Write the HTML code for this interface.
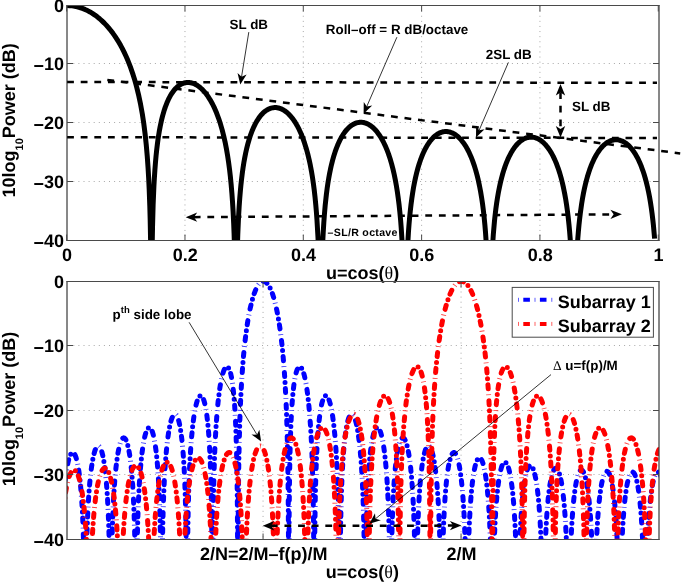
<!DOCTYPE html>
<html><head><meta charset="utf-8"><style>
html,body{margin:0;padding:0;background:#fff;}
svg{display:block;font-family:"Liberation Sans", sans-serif;}
text{text-rendering:geometricPrecision;}
svg{will-change:transform;}
</style></head><body>
<svg width="685" height="585" viewBox="0 0 685 585">
<rect width="685" height="585" fill="#fff"/>
<line x1="184.97" y1="5.55" x2="184.97" y2="240.30" stroke="#a8a8a8" stroke-width="1" stroke-dasharray="1 4.1"/>
<line x1="303.29" y1="5.55" x2="303.29" y2="240.30" stroke="#a8a8a8" stroke-width="1" stroke-dasharray="1 4.1"/>
<line x1="421.61" y1="5.55" x2="421.61" y2="240.30" stroke="#a8a8a8" stroke-width="1" stroke-dasharray="1 4.1"/>
<line x1="539.93" y1="5.55" x2="539.93" y2="240.30" stroke="#a8a8a8" stroke-width="1" stroke-dasharray="1 4.1"/>
<line x1="68.20" y1="63.50" x2="658.80" y2="63.50" stroke="#a8a8a8" stroke-width="1" stroke-dasharray="1 4.1"/>
<line x1="68.20" y1="122.50" x2="658.80" y2="122.50" stroke="#a8a8a8" stroke-width="1" stroke-dasharray="1 4.1"/>
<line x1="68.20" y1="181.50" x2="658.80" y2="181.50" stroke="#a8a8a8" stroke-width="1" stroke-dasharray="1 4.1"/>
<defs><clipPath id="ct"><rect x="67.2" y="5.55" width="591.5999999999999" height="234.75"/></clipPath><clipPath id="cb"><rect x="67.2" y="281.3" width="591.5999999999999" height="258.2"/></clipPath></defs>
<line x1="67.1" y1="82.0" x2="657" y2="82.8" stroke="#000" stroke-width="2.5" stroke-dasharray="6.8 6.82"/>
<line x1="67.1" y1="137.2" x2="657" y2="138.0" stroke="#000" stroke-width="2.5" stroke-dasharray="6.8 6.82"/>
<line x1="107.3" y1="79.9" x2="680.2" y2="153.4" stroke="#000" stroke-width="2.5" stroke-dasharray="6.8 6.82"/>
<path d="M66.90,5.55 L69.64,5.64 L72.19,5.88 L74.74,6.27 L77.29,6.82 L79.83,7.52 L82.38,8.38 L84.93,9.41 L87.48,10.60 L90.02,11.96 L92.38,13.37 L94.92,15.08 L97.27,16.83 L99.63,18.74 L101.98,20.84 L104.33,23.13 L106.48,25.40 L108.64,27.85 L110.80,30.49 L112.95,33.33 L114.91,36.11 L116.87,39.09 L118.83,42.28 L120.59,45.36 L122.36,48.64 L124.12,52.16 L125.69,55.49 L127.26,59.05 L128.82,62.86 L130.39,66.95 L131.76,70.79 L133.14,74.90 L134.51,79.33 L135.68,83.41 L136.86,87.80 L138.82,95.92 L140.58,104.34 L142.35,114.18 L143.72,123.17 L145.09,133.84 L146.27,144.92 L147.25,156.18 L148.03,167.22 L148.62,177.26 L149.20,189.61 L149.79,205.71 L150.18,220.04 L150.58,239.83 L151.16,287.25 L151.56,287.25 L151.75,286.78 L152.14,247.78 L152.54,226.11 L153.12,204.99 L153.91,186.25 L154.30,179.05 L154.89,169.98 L155.48,162.40 L156.06,155.90 L156.65,150.22 L157.44,143.65 L158.22,137.96 L159.20,131.81 L160.18,126.48 L161.35,120.95 L162.53,116.16 L163.90,111.33 L165.27,107.15 L166.84,103.02 L168.41,99.47 L170.17,96.06 L171.94,93.16 L173.90,90.47 L175.86,88.24 L177.82,86.44 L178.80,85.68 L179.97,84.89 L180.95,84.32 L182.13,83.75 L183.11,83.36 L184.28,82.99 L185.46,82.73 L186.63,82.56 L187.81,82.50 L189.18,82.55 L190.55,82.73 L191.92,83.03 L193.30,83.47 L194.67,84.02 L196.04,84.71 L197.41,85.52 L198.78,86.47 L200.16,87.54 L201.53,88.75 L202.70,89.90 L204.07,91.37 L205.25,92.75 L206.62,94.51 L207.80,96.14 L210.15,99.79 L212.50,104.02 L214.66,108.46 L216.62,113.05 L218.58,118.26 L220.34,123.59 L222.10,129.63 L223.67,135.76 L225.04,141.85 L226.41,148.80 L227.59,155.63 L228.57,162.11 L229.55,169.53 L230.33,176.33 L231.12,184.15 L231.90,193.37 L232.49,201.53 L233.08,211.21 L233.67,223.11 L234.06,232.90 L234.65,252.27 L235.04,270.94 L235.23,283.64 L235.43,287.25 L236.41,287.25 L236.60,285.48 L236.80,272.57 L237.19,253.76 L237.78,234.48 L238.56,216.75 L239.15,206.69 L239.74,198.36 L240.33,191.26 L240.92,185.09 L241.50,179.65 L242.29,173.26 L243.07,167.67 L243.86,162.71 L244.64,158.27 L245.62,153.31 L246.79,148.06 L247.97,143.45 L249.34,138.72 L250.71,134.57 L252.28,130.42 L253.85,126.80 L255.42,123.62 L257.18,120.52 L258.94,117.85 L260.90,115.32 L262.86,113.21 L264.82,111.48 L265.80,110.74 L266.98,109.97 L267.96,109.41 L269.13,108.85 L270.11,108.46 L271.29,108.09 L272.27,107.85 L273.45,107.67 L274.62,107.58 L275.99,107.60 L277.17,107.73 L278.54,107.99 L279.91,108.38 L281.09,108.83 L282.26,109.36 L283.44,110.00 L284.81,110.87 L285.99,111.73 L287.16,112.69 L288.34,113.75 L290.69,116.22 L292.85,118.91 L295.00,122.04 L297.16,125.67 L299.12,129.45 L301.08,133.76 L302.84,138.17 L304.60,143.17 L306.17,148.21 L307.74,153.92 L309.11,159.60 L310.29,165.10 L311.46,171.31 L312.44,177.18 L313.42,183.84 L314.21,189.89 L314.99,196.77 L315.77,204.72 L316.36,211.62 L316.95,219.60 L317.93,236.48 L318.52,250.14 L318.91,261.79 L319.50,286.52 L319.69,287.25 L321.26,287.25 L321.46,283.28 L322.04,260.09 L322.83,239.96 L323.22,232.29 L323.81,222.65 L324.40,214.59 L325.18,205.58 L326.36,194.62 L327.14,188.52 L327.92,183.14 L328.71,178.33 L329.49,174.00 L330.47,169.14 L331.45,164.79 L332.63,160.13 L333.80,155.97 L335.17,151.67 L336.55,147.85 L338.11,144.00 L339.68,140.61 L341.25,137.62 L343.01,134.68 L344.78,132.13 L346.54,129.94 L348.50,127.87 L350.46,126.17 L352.42,124.80 L353.40,124.23 L354.57,123.65 L356.53,122.91 L357.51,122.65 L358.69,122.43 L359.87,122.31 L361.04,122.28 L362.22,122.35 L363.39,122.52 L364.57,122.78 L365.74,123.15 L366.92,123.60 L368.10,124.16 L369.27,124.82 L370.45,125.58 L371.62,126.45 L372.80,127.42 L374.96,129.50 L377.11,131.98 L379.27,134.90 L381.23,137.98 L383.19,141.51 L385.15,145.56 L386.91,149.71 L388.48,153.88 L390.04,158.57 L391.61,163.88 L392.98,169.15 L394.16,174.24 L395.34,179.97 L396.32,185.34 L397.29,191.40 L398.27,198.32 L399.06,204.65 L399.84,211.90 L400.63,220.38 L401.21,227.83 L402.19,243.33 L402.78,255.56 L403.17,265.71 L403.76,286.14 L403.96,287.25 L406.11,287.25 L406.70,267.22 L407.49,248.42 L408.46,231.90 L409.05,224.11 L409.64,217.40 L410.23,211.50 L411.01,204.62 L411.80,198.62 L412.58,193.30 L413.56,187.43 L414.54,182.24 L415.52,177.61 L416.70,172.66 L417.87,168.26 L419.05,164.31 L420.42,160.20 L421.79,156.54 L423.16,153.26 L424.73,149.92 L426.30,146.97 L428.06,144.06 L429.82,141.53 L431.59,139.34 L433.35,137.46 L435.31,135.71 L437.27,134.29 L439.23,133.18 L441.19,132.36 L442.17,132.06 L443.35,131.79 L444.52,131.62 L445.70,131.55 L446.87,131.57 L448.05,131.69 L449.23,131.91 L450.40,132.22 L452.56,133.05 L453.73,133.65 L454.91,134.35 L457.06,135.91 L459.22,137.83 L461.38,140.17 L463.53,142.93 L465.49,145.87 L467.45,149.25 L469.21,152.72 L470.98,156.66 L472.55,160.62 L474.11,165.08 L475.68,170.13 L477.05,175.14 L478.23,179.96 L479.40,185.38 L480.58,191.53 L481.56,197.35 L482.54,203.99 L483.32,210.04 L484.11,216.94 L484.89,224.95 L485.48,231.93 L486.46,246.27 L487.24,261.63 L487.63,271.50 L488.03,283.74 L488.22,287.25 L490.77,287.25 L491.55,265.38 L492.34,249.19 L493.32,234.34 L494.49,220.94 L495.08,215.41 L495.86,208.90 L496.65,203.18 L497.43,198.08 L498.41,192.42 L499.39,187.40 L500.37,182.90 L501.55,178.07 L502.72,173.76 L503.90,169.88 L505.08,166.38 L506.45,162.70 L507.82,159.41 L509.39,156.05 L510.95,153.07 L512.52,150.42 L514.09,148.08 L515.85,145.77 L517.62,143.78 L519.38,142.09 L521.14,140.66 L523.10,139.38 L525.06,138.39 L527.02,137.69 L528.00,137.44 L529.18,137.24 L530.35,137.13 L531.53,137.12 L532.71,137.21 L533.88,137.40 L535.06,137.68 L536.23,138.06 L537.41,138.54 L538.58,139.12 L540.74,140.46 L541.92,141.34 L543.09,142.33 L545.25,144.46 L547.40,147.02 L549.36,149.75 L551.32,152.90 L553.09,156.16 L554.85,159.86 L556.61,164.07 L558.18,168.33 L559.75,173.14 L561.12,177.92 L562.30,182.50 L563.47,187.63 L564.65,193.44 L565.63,198.92 L566.61,205.13 L567.39,210.75 L568.18,217.12 L568.96,224.43 L569.55,230.72 L570.14,237.93 L570.72,246.34 L571.31,256.45 L571.70,264.51 L572.09,274.11 L572.49,285.94 L572.68,287.25 L575.43,287.25 L576.01,270.66 L576.80,254.08 L577.78,238.94 L578.37,231.67 L578.95,225.33 L579.54,219.72 L580.33,213.12 L581.70,203.40 L582.48,198.64 L583.46,193.31 L584.44,188.55 L585.42,184.27 L586.40,180.38 L587.38,176.84 L588.56,172.97 L589.73,169.47 L590.91,166.29 L592.28,162.93 L593.65,159.91 L595.02,157.19 L596.39,154.73 L597.96,152.22 L599.53,149.99 L601.10,148.03 L602.67,146.30 L604.43,144.63 L606.00,143.37 L607.76,142.19 L609.72,141.16 L611.68,140.42 L613.64,139.95 L614.62,139.82 L615.79,139.76 L616.97,139.78 L617.95,139.88 L619.91,140.28 L622.07,141.04 L624.03,142.03 L625.98,143.30 L627.94,144.89 L629.90,146.81 L631.67,148.83 L633.43,151.16 L635.20,153.84 L636.96,156.89 L638.53,159.96 L640.09,163.40 L641.47,166.77 L642.84,170.52 L644.01,174.08 L645.19,178.01 L646.36,182.37 L647.54,187.25 L648.52,191.78 L649.50,196.84 L650.48,202.52 L651.26,207.62 L652.05,213.34 L652.83,219.83 L653.42,225.34 L654.60,238.64" fill="none" stroke="#000" stroke-width="5.0" stroke-linejoin="round" clip-path="url(#ct)"/>
<line x1="67" y1="5.0" x2="67" y2="241.0" stroke="#111" stroke-width="1"/>
<line x1="659" y1="5.0" x2="659" y2="241.0" stroke="#111" stroke-width="1"/>
<line x1="66.5" y1="5.5" x2="659.5" y2="5.5" stroke="#4a4a4a" stroke-width="1"/>
<line x1="66.5" y1="240.5" x2="659.5" y2="240.5" stroke="#4a4a4a" stroke-width="1"/>
<line x1="66.65" y1="240.50" x2="66.65" y2="234.50" stroke="#4a4a4a" stroke-width="1"/>
<line x1="66.65" y1="5.50" x2="66.65" y2="11.50" stroke="#4a4a4a" stroke-width="1"/>
<line x1="184.97" y1="240.50" x2="184.97" y2="234.50" stroke="#4a4a4a" stroke-width="1"/>
<line x1="184.97" y1="5.50" x2="184.97" y2="11.50" stroke="#4a4a4a" stroke-width="1"/>
<line x1="303.29" y1="240.50" x2="303.29" y2="234.50" stroke="#4a4a4a" stroke-width="1"/>
<line x1="303.29" y1="5.50" x2="303.29" y2="11.50" stroke="#4a4a4a" stroke-width="1"/>
<line x1="421.61" y1="240.50" x2="421.61" y2="234.50" stroke="#4a4a4a" stroke-width="1"/>
<line x1="421.61" y1="5.50" x2="421.61" y2="11.50" stroke="#4a4a4a" stroke-width="1"/>
<line x1="539.93" y1="240.50" x2="539.93" y2="234.50" stroke="#4a4a4a" stroke-width="1"/>
<line x1="539.93" y1="5.50" x2="539.93" y2="11.50" stroke="#4a4a4a" stroke-width="1"/>
<line x1="658.25" y1="240.50" x2="658.25" y2="234.50" stroke="#4a4a4a" stroke-width="1"/>
<line x1="658.25" y1="5.50" x2="658.25" y2="11.50" stroke="#4a4a4a" stroke-width="1"/>
<line x1="67" y1="5.50" x2="73.00" y2="5.50" stroke="#4a4a4a" stroke-width="1"/>
<line x1="659" y1="5.50" x2="653.00" y2="5.50" stroke="#4a4a4a" stroke-width="1"/>
<line x1="67" y1="63.50" x2="73.00" y2="63.50" stroke="#4a4a4a" stroke-width="1"/>
<line x1="659" y1="63.50" x2="653.00" y2="63.50" stroke="#4a4a4a" stroke-width="1"/>
<line x1="67" y1="122.50" x2="73.00" y2="122.50" stroke="#4a4a4a" stroke-width="1"/>
<line x1="659" y1="122.50" x2="653.00" y2="122.50" stroke="#4a4a4a" stroke-width="1"/>
<line x1="67" y1="181.50" x2="73.00" y2="181.50" stroke="#4a4a4a" stroke-width="1"/>
<line x1="659" y1="181.50" x2="653.00" y2="181.50" stroke="#4a4a4a" stroke-width="1"/>
<line x1="67" y1="240.50" x2="73.00" y2="240.50" stroke="#4a4a4a" stroke-width="1"/>
<line x1="659" y1="240.50" x2="653.00" y2="240.50" stroke="#4a4a4a" stroke-width="1"/>
<text x="64.00" y="11.95" font-size="18" text-anchor="end" font-weight="bold" >0</text>
<text x="64.00" y="69.90" font-size="18" text-anchor="end" font-weight="bold" ><tspan dy="1.8">−</tspan><tspan dy="-1.8">10</tspan></text>
<text x="64.00" y="129.32" font-size="18" text-anchor="end" font-weight="bold" ><tspan dy="1.8">−</tspan><tspan dy="-1.8">20</tspan></text>
<text x="64.00" y="188.01" font-size="18" text-anchor="end" font-weight="bold" ><tspan dy="1.8">−</tspan><tspan dy="-1.8">30</tspan></text>
<text x="64.00" y="246.70" font-size="18" text-anchor="end" font-weight="bold" ><tspan dy="1.8">−</tspan><tspan dy="-1.8">40</tspan></text>
<text x="66.90" y="260.60" font-size="18" text-anchor="middle" font-weight="bold" >0</text>
<text x="185.22" y="260.60" font-size="18" text-anchor="middle" font-weight="bold" >0.2</text>
<text x="303.54" y="260.60" font-size="18" text-anchor="middle" font-weight="bold" >0.4</text>
<text x="421.86" y="260.60" font-size="18" text-anchor="middle" font-weight="bold" >0.6</text>
<text x="540.18" y="260.60" font-size="18" text-anchor="middle" font-weight="bold" >0.8</text>
<text x="658.50" y="260.60" font-size="18" text-anchor="middle" font-weight="bold" >1</text>
<text x="362.60" y="279.00" font-size="18" text-anchor="middle" font-weight="bold">u=cos(<tspan font-family="Liberation Serif, serif" font-weight="normal">θ</tspan>)</text>
<text transform="translate(15.40,120.30) rotate(-90)" font-size="18" text-anchor="middle" font-weight="bold">10log<tspan font-size="11" dy="8">10</tspan><tspan dy="-8">Power (dB)</tspan></text>
<text x="229.60" y="29.20" font-size="13.4" text-anchor="start" font-weight="bold" >SL dB</text>
<line x1="248.80" y1="32.10" x2="241.53" y2="77.00" stroke="#000" stroke-width="0.8"/><path d="M240.30,84.60 L237.52,73.01 L241.57,76.78 L246.60,74.48 Z" fill="#000"/>
<text x="325.80" y="34.20" font-size="13.4" text-anchor="start" font-weight="bold" >Roll–off = R dB/octave</text>
<line x1="396.90" y1="37.20" x2="366.67" y2="106.74" stroke="#000" stroke-width="0.8"/><path d="M363.60,113.80 L363.77,101.88 L366.76,106.54 L372.20,105.55 Z" fill="#000"/>
<text x="485.80" y="59.30" font-size="13.4" text-anchor="start" font-weight="bold" >2SL dB</text>
<line x1="508.40" y1="62.40" x2="479.05" y2="130.43" stroke="#000" stroke-width="0.8"/><path d="M476.00,137.50 L476.13,125.58 L479.14,130.23 L484.58,129.22 Z" fill="#000"/>
<text x="572.00" y="110.80" font-size="13.4" text-anchor="start" font-weight="bold" >SL dB</text>
<line x1="560.50" y1="92.15" x2="560.50" y2="129.35" stroke="#000" stroke-width="2.5" stroke-dasharray="6.8 6.82"/><path d="M560.50,84.10 L565.20,95.60 L560.50,92.38 L555.80,95.60 Z" fill="#000"/><path d="M560.50,137.40 L555.80,125.90 L560.50,129.12 L565.20,125.90 Z" fill="#000"/>
<line x1="193.75" y1="217.15" x2="613.85" y2="214.35" stroke="#000" stroke-width="2.5" stroke-dasharray="6.8 6.82"/><path d="M185.70,217.20 L197.17,212.42 L193.98,217.14 L197.23,221.82 Z" fill="#000"/><path d="M621.90,214.30 L610.43,219.08 L613.62,214.36 L610.37,209.68 Z" fill="#000"/>
<text x="327.60" y="235.90" font-size="10.6" text-anchor="start" font-weight="bold" letter-spacing="0.3">–SL/R octave</text>
<line x1="263.05" y1="281.30" x2="263.05" y2="539.50" stroke="#a8a8a8" stroke-width="1" stroke-dasharray="1 4.1"/>
<line x1="461.05" y1="281.30" x2="461.05" y2="539.50" stroke="#a8a8a8" stroke-width="1" stroke-dasharray="1 4.1"/>
<line x1="68.20" y1="345.50" x2="658.80" y2="345.50" stroke="#a8a8a8" stroke-width="1" stroke-dasharray="1 4.1"/>
<line x1="68.20" y1="410.50" x2="658.80" y2="410.50" stroke="#a8a8a8" stroke-width="1" stroke-dasharray="1 4.1"/>
<line x1="68.20" y1="474.50" x2="658.80" y2="474.50" stroke="#a8a8a8" stroke-width="1" stroke-dasharray="1 4.1"/>
<path d="M64.20,490.28 L64.80,483.99 L65.40,478.59 L66.14,472.86 L66.89,468.07 L67.64,464.07 L68.53,460.18 L69.43,457.17 L70.33,454.95 L70.78,454.11 L71.22,453.46 L71.67,452.98 L72.12,452.67 L72.72,452.53 L73.17,452.63 L73.61,452.90 L74.06,453.34 L74.51,453.96 L74.96,454.76 L75.86,456.95 L76.75,459.96 L77.50,463.18 L78.25,467.12 L78.84,470.88 L79.44,475.25 L80.04,480.36 L81.09,491.55 L81.98,504.37 L82.43,512.43 L82.88,522.10 L83.48,538.75 L84.08,563.15 L84.52,591.14 L85.12,591.14 M85.12,591.14 L85.72,591.14 L86.47,551.27 L86.91,534.91 L87.51,518.75 L87.96,509.22 L88.56,498.79 L89.16,490.21 L89.75,483.00 L90.65,474.11 L91.55,466.98 L92.59,460.37 L93.64,455.26 L94.69,451.39 L95.28,449.68 L95.88,448.31 L96.48,447.26 L97.08,446.53 L97.67,446.11 L98.27,445.98 L98.87,446.17 L99.47,446.66 L100.06,447.48 L100.51,448.30 L101.11,449.69 L101.71,451.45 L102.75,455.47 L103.80,460.87 L104.70,466.83 L105.59,474.36 L106.34,482.19 L106.94,489.80 L107.54,499.03 L108.13,510.54 L108.58,521.37 L109.03,535.09 L109.48,553.65 L110.08,591.14 L110.53,591.14 M110.53,591.14 L111.12,591.14 L111.57,560.93 L111.87,545.90 L112.32,529.00 L112.77,516.11 L113.22,505.73 L113.81,494.49 L114.41,485.34 L115.01,477.68 L115.91,468.28 L116.80,460.74 L117.85,453.76 L118.89,448.31 L119.49,445.79 L120.09,443.66 L120.69,441.88 L121.29,440.44 L121.88,439.33 L122.48,438.53 L123.08,438.04 L123.68,437.86 L124.12,437.92 L124.42,438.05 L125.02,438.56 L125.62,439.38 L126.22,440.54 L126.81,442.04 L127.41,443.91 L128.46,448.16 L129.50,453.86 L130.40,460.16 L131.30,468.14 L132.04,476.50 L132.64,484.69 L133.24,494.74 L133.69,503.97 L134.14,515.33 L134.58,529.90 L134.88,542.47 L135.18,558.86 L135.63,591.14 L136.08,591.14 M136.08,591.14 L136.53,591.14 L136.83,564.38 L137.13,546.08 L137.57,526.53 L138.02,512.11 L138.47,500.72 L139.07,488.57 L139.67,478.76 L140.26,470.62 L141.16,460.64 L142.06,452.67 L143.10,445.26 L143.70,441.76 L144.30,438.74 L144.90,436.13 L145.49,433.91 L146.09,432.05 L146.84,430.21 L147.44,429.09 L148.03,428.29 L148.63,427.79 L149.08,427.62 L149.38,427.60 L149.83,427.72 L150.13,427.89 L150.72,428.47 L151.32,429.37 L151.92,430.61 L152.52,432.20 L153.12,434.18 L154.16,438.64 L155.21,444.63 L156.10,451.26 L157.00,459.72 L157.75,468.63 L158.35,477.47 L158.94,488.46 L159.39,498.74 L159.84,511.68 L160.29,528.91 L160.59,544.55 L161.18,591.14 L161.48,591.14 M161.48,591.14 L161.78,591.14 L161.93,585.71 L162.38,545.65 L162.83,522.48 L163.28,506.14 L163.73,493.54 L164.32,480.32 L164.92,469.76 L165.52,461.05 L166.42,450.44 L167.46,440.72 L168.51,433.09 L169.11,429.48 L169.70,426.34 L170.30,423.62 L170.90,421.29 L171.50,419.32 L172.24,417.33 L172.84,416.11 L173.59,415.01 L173.89,414.71 L174.34,414.40 L174.93,414.25 L175.38,414.33 L175.68,414.49 L176.28,415.03 L176.88,415.90 L177.47,417.10 L178.07,418.66 L178.67,420.61 L179.27,422.97 L179.86,425.80 L180.91,432.03 L181.96,440.31 L182.85,449.62 L183.60,459.60 L184.20,469.69 L184.65,479.03 L185.09,490.59 L185.54,505.58 L185.84,518.65 L186.14,535.99 L186.74,591.14 L186.89,591.14 M186.89,591.14 L187.19,591.14 L187.49,558.09 L187.78,533.08 L188.08,515.79 L188.53,496.95 L188.98,482.87 L189.43,471.64 L190.03,459.56 L190.77,447.56 L191.67,436.18 L192.72,425.76 L193.91,416.53 L195.11,409.44 L195.70,406.55 L196.45,403.48 L197.05,401.42 L197.80,399.33 L198.39,398.01 L199.14,396.79 L199.89,396.05 L200.34,395.83 L200.64,395.78 L201.08,395.84 L201.38,395.98 L201.98,396.49 L202.73,397.60 L203.33,398.87 L203.92,400.52 L204.52,402.56 L205.12,405.05 L205.72,408.04 L206.76,414.66 L207.66,422.13 L208.56,431.87 L209.30,442.49 L209.90,453.42 L210.50,467.76 L210.95,482.15 L211.25,494.64 L211.55,511.05 L211.84,534.79 L212.14,577.69 L212.29,591.14 L212.44,591.14 M212.44,591.14 L212.59,591.14 L212.74,561.24 L213.04,525.64 L213.34,503.88 L213.64,488.14 L214.09,470.49 L214.68,453.14 L215.28,439.86 L216.03,426.77 L217.07,412.58 L218.12,401.58 L219.32,391.70 L219.91,387.59 L220.66,383.11 L221.41,379.27 L222.16,376.00 L222.90,373.27 L223.65,371.03 L224.40,369.26 L224.85,368.42 L225.29,367.75 L225.74,367.24 L226.19,366.90 L226.64,366.72 L226.94,366.69 L227.39,366.80 L227.68,366.97 L228.28,367.55 L229.03,368.76 L229.63,370.14 L230.22,371.93 L230.82,374.17 L231.42,376.92 L232.02,380.25 L232.62,384.27 L233.06,387.81 L233.96,396.63 L234.71,406.40 L235.46,419.55 L236.05,434.08 L236.50,449.04 L236.80,462.36 L237.10,480.43 L237.40,508.19 L237.85,591.14 M237.85,591.14 L238.00,570.37 L238.15,530.46 L238.44,490.61 L238.74,467.15 L239.19,443.45 L239.79,421.66 L240.24,409.20 L240.69,398.79 L241.73,379.54 L242.93,362.86 L243.67,354.27 L244.57,345.29 L245.62,336.25 L246.66,328.41 L247.71,321.55 L248.90,314.70 L250.10,308.74 L251.45,302.95 L252.79,298.00 L254.13,293.80 L255.63,289.93 L256.38,288.29 L257.12,286.84 L257.87,285.56 L258.62,284.45 L259.37,283.52 L260.11,282.75 L260.86,282.15 L261.61,281.71 L262.35,281.43 L263.25,281.30 L264.15,281.40 L264.89,281.66 L265.64,282.08 L266.39,282.66 L267.14,283.41 L267.88,284.32 L268.63,285.40 L269.38,286.66 L270.12,288.09 L270.87,289.71 L272.37,293.52 L273.71,297.67 L275.06,302.56 L276.40,308.29 L277.60,314.18 L278.79,320.95 L279.84,327.73 L280.88,335.46 L281.78,343.02 L282.68,351.65 L283.57,361.65 L284.32,371.37 L284.92,380.35 L285.97,399.88 L286.41,410.48 L286.86,423.23 L287.46,445.70 L287.91,470.52 L288.21,495.70 L288.51,541.11 L288.65,591.14 M288.65,591.14 L288.80,591.14 L289.10,521.81 L289.25,502.37 L289.55,476.90 L289.85,459.84 L290.30,441.79 L290.75,428.68 L291.20,418.51 L291.94,405.65 L292.69,396.06 L293.59,387.38 L294.03,383.90 L294.63,379.94 L295.23,376.67 L295.83,373.97 L296.43,371.77 L297.02,370.01 L297.62,368.66 L298.37,367.49 L298.97,366.94 L299.26,366.78 L299.71,366.69 L300.01,366.73 L300.46,366.93 L300.91,367.29 L301.36,367.82 L301.81,368.51 L302.25,369.37 L303.00,371.16 L303.75,373.44 L304.50,376.21 L305.24,379.51 L305.99,383.39 L306.74,387.92 L307.33,392.07 L308.53,402.06 L309.58,413.18 L310.62,427.56 L311.37,440.87 L311.97,454.42 L312.56,472.23 L313.01,490.52 L313.31,507.03 L313.61,530.31 L314.06,591.14 L314.21,591.14 M314.21,591.14 L314.36,591.14 L314.81,529.97 L315.25,499.53 L315.55,485.96 L316.00,470.59 L316.60,455.51 L317.20,444.12 L317.94,433.13 L318.84,423.08 L319.74,415.39 L320.78,408.58 L321.38,405.51 L321.98,402.94 L322.58,400.83 L323.17,399.12 L323.77,397.78 L324.52,396.61 L325.12,396.04 L325.42,395.88 L325.86,395.77 L326.16,395.80 L326.61,395.99 L327.06,396.34 L327.36,396.67 L328.11,397.82 L328.70,399.09 L329.45,401.12 L330.05,403.11 L330.80,406.11 L331.39,408.93 L332.59,415.87 L333.78,424.90 L334.83,435.08 L335.73,446.16 L336.47,457.80 L337.07,469.45 L337.67,484.29 L338.12,498.79 L338.57,518.37 L338.87,536.61 L339.16,563.67 L339.31,584.40 L339.46,591.14 L339.61,591.14 M339.61,591.14 L339.91,591.14 L340.36,543.20 L340.66,523.79 L341.11,503.65 L341.56,489.14 L342.00,477.88 L342.45,468.74 L343.05,458.84 L343.80,449.02 L344.69,439.85 L345.74,431.68 L346.79,425.54 L347.38,422.76 L347.98,420.43 L348.58,418.52 L349.18,416.99 L349.77,415.81 L350.37,414.97 L350.97,414.46 L351.27,414.32 L351.72,414.25 L352.02,414.30 L352.46,414.52 L352.91,414.91 L353.21,415.26 L353.96,416.48 L354.56,417.81 L355.30,419.94 L355.90,422.02 L356.50,424.48 L357.10,427.34 L357.69,430.63 L358.29,434.41 L359.34,442.39 L360.24,450.97 L361.13,461.73 L361.73,470.58 L362.33,481.32 L362.93,494.83 L363.37,507.76 L363.82,524.66 L364.12,539.65 L364.42,560.16 L364.72,591.14 L365.02,591.14 M365.02,591.14 L365.47,591.14 L365.76,562.17 L366.06,541.57 L366.36,526.67 L366.81,510.05 L367.26,497.47 L367.71,487.42 L368.31,476.65 L368.90,467.96 L369.65,459.18 L370.55,450.85 L371.44,444.30 L372.49,438.40 L373.54,433.99 L374.13,432.05 L374.73,430.49 L375.33,429.28 L375.93,428.41 L376.52,427.85 L376.82,427.70 L377.27,427.60 L377.57,427.63 L378.02,427.82 L378.62,428.35 L379.21,429.17 L379.81,430.31 L380.41,431.78 L381.01,433.58 L381.60,435.74 L382.20,438.28 L382.80,441.23 L383.40,444.64 L384.44,451.89 L385.34,459.68 L386.24,469.40 L386.98,479.52 L387.58,489.50 L388.18,501.89 L388.63,513.56 L389.08,528.42 L389.53,548.79 L390.12,591.14 L390.57,591.14 M390.57,591.14 L391.02,591.14 L391.32,565.59 L391.62,547.36 L392.07,528.04 L392.51,513.91 L392.96,502.84 L393.41,493.80 L394.01,483.93 L394.61,475.87 L395.35,467.64 L396.25,459.77 L397.15,453.55 L398.19,447.93 L399.24,443.74 L399.84,441.90 L400.43,440.43 L401.03,439.30 L401.63,438.50 L402.23,438.02 L402.83,437.85 L403.42,437.99 L404.02,438.43 L404.62,439.18 L405.22,440.24 L405.81,441.62 L406.41,443.34 L407.01,445.41 L407.61,447.87 L408.65,453.18 L409.70,460.01 L410.60,467.36 L411.49,476.53 L412.24,486.05 L412.84,495.35 L413.44,506.80 L413.88,517.42 L414.33,530.66 L414.78,548.17 L415.08,563.93 L415.38,585.95 L415.53,591.14 L415.98,591.14 M415.98,591.14 L416.42,591.14 L416.57,590.92 L416.87,567.55 L417.17,551.21 L417.62,533.35 L418.07,520.03 L418.52,509.46 L419.11,498.18 L419.71,489.10 L420.31,481.61 L421.06,473.89 L421.95,466.46 L422.85,460.57 L423.90,455.24 L424.94,451.29 L425.54,449.56 L426.14,448.20 L426.59,447.39 L427.18,446.61 L427.78,446.14 L428.38,445.98 L428.98,446.13 L429.57,446.58 L430.17,447.34 L430.77,448.41 L431.37,449.81 L431.97,451.55 L432.56,453.65 L433.16,456.13 L434.21,461.51 L435.10,467.34 L436.00,474.56 L436.90,483.57 L437.49,490.88 L438.09,499.59 L438.69,510.21 L439.14,519.94 L439.74,536.53 L440.18,553.46 L440.48,568.54 L440.78,589.29 L440.93,591.14 L441.38,591.14 M441.38,591.14 L441.98,591.14 L442.13,588.86 L442.43,568.51 L442.72,553.70 L443.02,542.09 L443.47,528.38 L443.92,517.56 L444.52,506.03 L445.12,496.78 L445.86,487.44 L446.61,479.90 L447.51,472.61 L448.40,466.83 L449.45,461.59 L450.50,457.70 L451.09,456.00 L451.69,454.66 L452.14,453.88 L452.74,453.12 L453.33,452.67 L453.93,452.53 L454.53,452.70 L455.13,453.17 L455.73,453.95 L456.17,454.75 L456.77,456.09 L457.37,457.77 L458.42,461.59 L459.46,466.66 L460.36,472.17 L461.26,479.02 L462.15,487.55 L462.75,494.44 L463.35,502.63 L463.94,512.52 L464.39,521.49 L464.99,536.51 L465.44,551.40 L465.89,571.89 L466.19,591.14 L466.78,591.14 M466.78,591.14 L467.53,591.14 L467.68,586.76 L467.98,568.73 L468.28,555.20 L468.58,544.39 L469.03,531.44 L469.47,521.11 L470.07,510.01 L470.82,499.07 L471.57,490.37 L472.31,483.29 L473.21,476.43 L474.11,470.96 L475.00,466.65 L476.05,462.83 L476.50,461.55 L477.10,460.16 L477.54,459.34 L478.14,458.53 L478.74,458.03 L479.34,457.84 L479.93,457.96 L480.53,458.38 L481.13,459.11 L481.58,459.87 L482.18,461.16 L482.77,462.79 L483.82,466.51 L484.87,471.48 L485.76,476.90 L486.66,483.63 L487.41,490.48 L488.15,498.81 L488.90,509.11 L489.50,519.34 L490.10,532.19 L490.54,544.45 L490.99,560.33 L491.59,591.14 L492.34,591.14 M492.34,591.14 L493.09,591.14 L493.83,555.89 L494.58,533.53 L495.03,523.65 L495.63,512.96 L496.37,502.35 L497.12,493.87 L497.87,486.96 L498.76,480.24 L499.66,474.89 L500.56,470.65 L501.60,466.92 L502.05,465.67 L502.65,464.32 L503.10,463.52 L503.70,462.74 L504.29,462.28 L504.89,462.12 L505.49,462.27 L506.09,462.72 L506.68,463.48 L507.13,464.27 L507.73,465.59 L508.18,466.81 L509.22,470.44 L510.27,475.31 L511.17,480.64 L512.06,487.27 L512.81,494.02 L513.56,502.22 L514.31,512.35 L514.90,522.40 L515.50,534.99 L516.25,556.72 L516.55,568.63 L517.00,591.14 L517.74,591.14 M517.74,591.14 L518.64,591.14 L519.24,561.39 L519.69,546.43 L520.13,534.80 L520.73,522.54 L521.33,512.77 L521.93,504.74 L522.67,496.48 L523.42,489.73 L524.32,483.15 L525.21,477.91 L526.26,473.17 L526.71,471.54 L527.31,469.69 L527.75,468.54 L528.35,467.31 L528.80,466.60 L529.40,465.94 L529.85,465.64 L530.44,465.52 L531.04,465.70 L531.49,466.04 L532.09,466.76 L532.54,467.51 L533.13,468.79 L533.58,469.97 L534.63,473.52 L535.67,478.30 L536.57,483.54 L537.47,490.07 L538.22,496.72 L538.96,504.79 L539.56,512.58 L540.16,521.97 L540.76,533.60 L541.20,544.47 L541.65,558.15 L542.40,591.14 L543.15,591.14 M543.15,591.14 L544.04,591.14 L544.19,587.74 L544.49,572.43 L544.94,555.38 L545.69,535.37 L546.28,523.60 L546.88,514.15 L547.48,506.35 L548.23,498.30 L548.97,491.71 L549.87,485.28 L550.77,480.15 L551.66,476.09 L552.11,474.42 L552.71,472.53 L553.16,471.35 L553.76,470.07 L554.21,469.33 L554.80,468.63 L555.25,468.30 L555.85,468.14 L556.45,468.28 L556.89,468.59 L557.49,469.27 L557.94,469.98 L558.54,471.22 L558.99,472.37 L559.58,474.22 L560.03,475.84 L561.08,480.54 L561.98,485.69 L562.87,492.12 L563.62,498.67 L564.37,506.63 L564.96,514.30 L565.56,523.53 L566.16,534.94 L566.61,545.57 L567.06,558.89 L567.36,570.04 L567.80,591.14 L568.70,591.14 M568.70,591.14 L569.60,591.14 L570.05,570.20 L570.34,559.10 L570.79,545.85 L571.24,535.30 L571.84,523.98 L572.44,514.85 L573.03,507.27 L573.78,499.43 L574.53,492.98 L575.43,486.69 L576.32,481.67 L577.22,477.71 L577.67,476.08 L578.26,474.23 L578.71,473.08 L579.31,471.85 L579.76,471.14 L580.36,470.47 L580.80,470.18 L581.40,470.05 L582.00,470.23 L582.45,470.56 L583.05,471.28 L583.49,472.03 L584.09,473.31 L584.54,474.49 L585.59,478.05 L586.48,482.08 L587.38,487.15 L588.28,493.48 L589.02,499.95 L589.77,507.78 L590.52,517.45 L591.12,526.99 L591.71,538.85 L592.16,549.99 L592.61,564.12 L593.21,591.14 L594.10,591.14 M594.10,591.14 L595.00,591.14 L595.15,588.19 L595.45,573.65 L595.90,557.25 L596.65,537.79 L597.24,526.26 L597.84,516.96 L598.44,509.26 L599.19,501.31 L599.93,494.77 L600.83,488.38 L601.73,483.28 L602.62,479.24 L603.07,477.58 L603.67,475.69 L604.12,474.51 L604.71,473.24 L605.16,472.50 L605.76,471.79 L606.21,471.47 L606.81,471.30 L607.40,471.44 L607.85,471.75 L608.45,472.43 L608.90,473.14 L609.50,474.38 L609.95,475.54 L610.54,477.38 L610.99,479.02 L611.89,482.97 L612.78,487.97 L613.68,494.20 L614.43,500.57 L615.18,508.30 L615.92,517.81 L616.52,527.20 L617.12,538.83 L617.57,549.73 L618.01,563.47 L618.61,589.81 L618.76,591.14 L619.66,591.14 M619.66,591.14 L620.56,591.14 L621.15,564.68 L621.60,550.70 L622.05,539.66 L622.65,527.90 L623.25,518.45 L623.99,508.88 L624.74,501.13 L625.49,494.74 L626.38,488.50 L627.28,483.50 L628.18,479.56 L628.62,477.93 L629.22,476.09 L629.67,474.95 L630.27,473.72 L630.72,473.01 L631.31,472.34 L631.76,472.05 L632.36,471.92 L632.96,472.10 L633.41,472.43 L634.00,473.15 L634.45,473.90 L635.05,475.18 L635.50,476.37 L636.40,479.36 L637.29,483.24 L638.19,488.16 L639.09,494.31 L639.83,500.58 L640.58,508.20 L641.33,517.57 L641.92,526.79 L642.52,538.21 L643.27,557.40 L643.72,573.47 L644.02,587.62 L644.17,591.14 L645.06,591.14 M645.06,591.14 L645.96,591.14 L646.56,566.60 L647.01,552.23 L647.75,534.58 L648.50,521.55 L649.10,513.24 L649.85,504.70 L650.59,497.71 L651.49,490.88 L652.09,487.11 L652.68,483.85 L653.28,481.07 L653.88,478.71 L654.48,476.73 L655.08,475.12 L655.67,473.85 L656.42,472.72 L657.02,472.17 L657.32,472.01 L657.77,471.92 L658.21,472.00 L658.51,472.14 L659.11,472.67 L659.86,473.77 L660.46,475.01 L661.20,477.05 L661.80,479.09" fill="none" stroke="#0000ff" stroke-width="5.0" stroke-linecap="round" stroke-linejoin="round" stroke-dasharray="4.2 5.9 0 5.9 4.2 11.8" stroke-dashoffset="5.30" clip-path="url(#cb)"/><path d="M64.20,490.28 L64.80,483.99 L65.40,478.59 L66.14,472.86 L66.89,468.07 L67.64,464.07 L68.53,460.18 L69.43,457.17 L70.33,454.95 L70.78,454.11 L71.22,453.46 L71.67,452.98 L72.12,452.67 L72.72,452.53 L73.17,452.63 L73.61,452.90 L74.06,453.34 L74.51,453.96 L74.96,454.76 L75.86,456.95 L76.75,459.96 L77.50,463.18 L78.25,467.12 L78.84,470.88 L79.44,475.25 L80.04,480.36 L81.09,491.55 L81.98,504.37 L82.43,512.43 L82.88,522.10 L83.48,538.75 L84.08,563.15 L84.52,591.14 L85.12,591.14 M85.12,591.14 L85.72,591.14 L86.47,551.27 L86.91,534.91 L87.51,518.75 L87.96,509.22 L88.56,498.79 L89.16,490.21 L89.75,483.00 L90.65,474.11 L91.55,466.98 L92.59,460.37 L93.64,455.26 L94.69,451.39 L95.28,449.68 L95.88,448.31 L96.48,447.26 L97.08,446.53 L97.67,446.11 L98.27,445.98 L98.87,446.17 L99.47,446.66 L100.06,447.48 L100.51,448.30 L101.11,449.69 L101.71,451.45 L102.75,455.47 L103.80,460.87 L104.70,466.83 L105.59,474.36 L106.34,482.19 L106.94,489.80 L107.54,499.03 L108.13,510.54 L108.58,521.37 L109.03,535.09 L109.48,553.65 L110.08,591.14 L110.53,591.14 M110.53,591.14 L111.12,591.14 L111.57,560.93 L111.87,545.90 L112.32,529.00 L112.77,516.11 L113.22,505.73 L113.81,494.49 L114.41,485.34 L115.01,477.68 L115.91,468.28 L116.80,460.74 L117.85,453.76 L118.89,448.31 L119.49,445.79 L120.09,443.66 L120.69,441.88 L121.29,440.44 L121.88,439.33 L122.48,438.53 L123.08,438.04 L123.68,437.86 L124.12,437.92 L124.42,438.05 L125.02,438.56 L125.62,439.38 L126.22,440.54 L126.81,442.04 L127.41,443.91 L128.46,448.16 L129.50,453.86 L130.40,460.16 L131.30,468.14 L132.04,476.50 L132.64,484.69 L133.24,494.74 L133.69,503.97 L134.14,515.33 L134.58,529.90 L134.88,542.47 L135.18,558.86 L135.63,591.14 L136.08,591.14 M136.08,591.14 L136.53,591.14 L136.83,564.38 L137.13,546.08 L137.57,526.53 L138.02,512.11 L138.47,500.72 L139.07,488.57 L139.67,478.76 L140.26,470.62 L141.16,460.64 L142.06,452.67 L143.10,445.26 L143.70,441.76 L144.30,438.74 L144.90,436.13 L145.49,433.91 L146.09,432.05 L146.84,430.21 L147.44,429.09 L148.03,428.29 L148.63,427.79 L149.08,427.62 L149.38,427.60 L149.83,427.72 L150.13,427.89 L150.72,428.47 L151.32,429.37 L151.92,430.61 L152.52,432.20 L153.12,434.18 L154.16,438.64 L155.21,444.63 L156.10,451.26 L157.00,459.72 L157.75,468.63 L158.35,477.47 L158.94,488.46 L159.39,498.74 L159.84,511.68 L160.29,528.91 L160.59,544.55 L161.18,591.14 L161.48,591.14 M161.48,591.14 L161.78,591.14 L161.93,585.71 L162.38,545.65 L162.83,522.48 L163.28,506.14 L163.73,493.54 L164.32,480.32 L164.92,469.76 L165.52,461.05 L166.42,450.44 L167.46,440.72 L168.51,433.09 L169.11,429.48 L169.70,426.34 L170.30,423.62 L170.90,421.29 L171.50,419.32 L172.24,417.33 L172.84,416.11 L173.59,415.01 L173.89,414.71 L174.34,414.40 L174.93,414.25 L175.38,414.33 L175.68,414.49 L176.28,415.03 L176.88,415.90 L177.47,417.10 L178.07,418.66 L178.67,420.61 L179.27,422.97 L179.86,425.80 L180.91,432.03 L181.96,440.31 L182.85,449.62 L183.60,459.60 L184.20,469.69 L184.65,479.03 L185.09,490.59 L185.54,505.58 L185.84,518.65 L186.14,535.99 L186.74,591.14 L186.89,591.14 M186.89,591.14 L187.19,591.14 L187.49,558.09 L187.78,533.08 L188.08,515.79 L188.53,496.95 L188.98,482.87 L189.43,471.64 L190.03,459.56 L190.77,447.56 L191.67,436.18 L192.72,425.76 L193.91,416.53 L195.11,409.44 L195.70,406.55 L196.45,403.48 L197.05,401.42 L197.80,399.33 L198.39,398.01 L199.14,396.79 L199.89,396.05 L200.34,395.83 L200.64,395.78 L201.08,395.84 L201.38,395.98 L201.98,396.49 L202.73,397.60 L203.33,398.87 L203.92,400.52 L204.52,402.56 L205.12,405.05 L205.72,408.04 L206.76,414.66 L207.66,422.13 L208.56,431.87 L209.30,442.49 L209.90,453.42 L210.50,467.76 L210.95,482.15 L211.25,494.64 L211.55,511.05 L211.84,534.79 L212.14,577.69 L212.29,591.14 L212.44,591.14 M212.44,591.14 L212.59,591.14 L212.74,561.24 L213.04,525.64 L213.34,503.88 L213.64,488.14 L214.09,470.49 L214.68,453.14 L215.28,439.86 L216.03,426.77 L217.07,412.58 L218.12,401.58 L219.32,391.70 L219.91,387.59 L220.66,383.11 L221.41,379.27 L222.16,376.00 L222.90,373.27 L223.65,371.03 L224.40,369.26 L224.85,368.42 L225.29,367.75 L225.74,367.24 L226.19,366.90 L226.64,366.72 L226.94,366.69 L227.39,366.80 L227.68,366.97 L228.28,367.55 L229.03,368.76 L229.63,370.14 L230.22,371.93 L230.82,374.17 L231.42,376.92 L232.02,380.25 L232.62,384.27 L233.06,387.81 L233.96,396.63 L234.71,406.40 L235.46,419.55 L236.05,434.08 L236.50,449.04 L236.80,462.36 L237.10,480.43 L237.40,508.19 L237.85,591.14 M237.85,591.14 L238.00,570.37 L238.15,530.46 L238.44,490.61 L238.74,467.15 L239.19,443.45 L239.79,421.66 L240.24,409.20 L240.69,398.79 L241.73,379.54 L242.93,362.86 L243.67,354.27 L244.57,345.29 L245.62,336.25 L246.66,328.41 L247.71,321.55 L248.90,314.70 L250.10,308.74 L251.45,302.95 L252.79,298.00 L254.13,293.80 L255.63,289.93 L256.38,288.29 L257.12,286.84 L257.87,285.56 L258.62,284.45 L259.37,283.52 L260.11,282.75 L260.86,282.15 L261.61,281.71 L262.35,281.43 L263.25,281.30 L264.15,281.40 L264.89,281.66 L265.64,282.08 L266.39,282.66 L267.14,283.41 L267.88,284.32 L268.63,285.40 L269.38,286.66 L270.12,288.09 L270.87,289.71 L272.37,293.52 L273.71,297.67 L275.06,302.56 L276.40,308.29 L277.60,314.18 L278.79,320.95 L279.84,327.73 L280.88,335.46 L281.78,343.02 L282.68,351.65 L283.57,361.65 L284.32,371.37 L284.92,380.35 L285.97,399.88 L286.41,410.48 L286.86,423.23 L287.46,445.70 L287.91,470.52 L288.21,495.70 L288.51,541.11 L288.65,591.14 M288.65,591.14 L288.80,591.14 L289.10,521.81 L289.25,502.37 L289.55,476.90 L289.85,459.84 L290.30,441.79 L290.75,428.68 L291.20,418.51 L291.94,405.65 L292.69,396.06 L293.59,387.38 L294.03,383.90 L294.63,379.94 L295.23,376.67 L295.83,373.97 L296.43,371.77 L297.02,370.01 L297.62,368.66 L298.37,367.49 L298.97,366.94 L299.26,366.78 L299.71,366.69 L300.01,366.73 L300.46,366.93 L300.91,367.29 L301.36,367.82 L301.81,368.51 L302.25,369.37 L303.00,371.16 L303.75,373.44 L304.50,376.21 L305.24,379.51 L305.99,383.39 L306.74,387.92 L307.33,392.07 L308.53,402.06 L309.58,413.18 L310.62,427.56 L311.37,440.87 L311.97,454.42 L312.56,472.23 L313.01,490.52 L313.31,507.03 L313.61,530.31 L314.06,591.14 L314.21,591.14 M314.21,591.14 L314.36,591.14 L314.81,529.97 L315.25,499.53 L315.55,485.96 L316.00,470.59 L316.60,455.51 L317.20,444.12 L317.94,433.13 L318.84,423.08 L319.74,415.39 L320.78,408.58 L321.38,405.51 L321.98,402.94 L322.58,400.83 L323.17,399.12 L323.77,397.78 L324.52,396.61 L325.12,396.04 L325.42,395.88 L325.86,395.77 L326.16,395.80 L326.61,395.99 L327.06,396.34 L327.36,396.67 L328.11,397.82 L328.70,399.09 L329.45,401.12 L330.05,403.11 L330.80,406.11 L331.39,408.93 L332.59,415.87 L333.78,424.90 L334.83,435.08 L335.73,446.16 L336.47,457.80 L337.07,469.45 L337.67,484.29 L338.12,498.79 L338.57,518.37 L338.87,536.61 L339.16,563.67 L339.31,584.40 L339.46,591.14 L339.61,591.14 M339.61,591.14 L339.91,591.14 L340.36,543.20 L340.66,523.79 L341.11,503.65 L341.56,489.14 L342.00,477.88 L342.45,468.74 L343.05,458.84 L343.80,449.02 L344.69,439.85 L345.74,431.68 L346.79,425.54 L347.38,422.76 L347.98,420.43 L348.58,418.52 L349.18,416.99 L349.77,415.81 L350.37,414.97 L350.97,414.46 L351.27,414.32 L351.72,414.25 L352.02,414.30 L352.46,414.52 L352.91,414.91 L353.21,415.26 L353.96,416.48 L354.56,417.81 L355.30,419.94 L355.90,422.02 L356.50,424.48 L357.10,427.34 L357.69,430.63 L358.29,434.41 L359.34,442.39 L360.24,450.97 L361.13,461.73 L361.73,470.58 L362.33,481.32 L362.93,494.83 L363.37,507.76 L363.82,524.66 L364.12,539.65 L364.42,560.16 L364.72,591.14 L365.02,591.14 M365.02,591.14 L365.47,591.14 L365.76,562.17 L366.06,541.57 L366.36,526.67 L366.81,510.05 L367.26,497.47 L367.71,487.42 L368.31,476.65 L368.90,467.96 L369.65,459.18 L370.55,450.85 L371.44,444.30 L372.49,438.40 L373.54,433.99 L374.13,432.05 L374.73,430.49 L375.33,429.28 L375.93,428.41 L376.52,427.85 L376.82,427.70 L377.27,427.60 L377.57,427.63 L378.02,427.82 L378.62,428.35 L379.21,429.17 L379.81,430.31 L380.41,431.78 L381.01,433.58 L381.60,435.74 L382.20,438.28 L382.80,441.23 L383.40,444.64 L384.44,451.89 L385.34,459.68 L386.24,469.40 L386.98,479.52 L387.58,489.50 L388.18,501.89 L388.63,513.56 L389.08,528.42 L389.53,548.79 L390.12,591.14 L390.57,591.14 M390.57,591.14 L391.02,591.14 L391.32,565.59 L391.62,547.36 L392.07,528.04 L392.51,513.91 L392.96,502.84 L393.41,493.80 L394.01,483.93 L394.61,475.87 L395.35,467.64 L396.25,459.77 L397.15,453.55 L398.19,447.93 L399.24,443.74 L399.84,441.90 L400.43,440.43 L401.03,439.30 L401.63,438.50 L402.23,438.02 L402.83,437.85 L403.42,437.99 L404.02,438.43 L404.62,439.18 L405.22,440.24 L405.81,441.62 L406.41,443.34 L407.01,445.41 L407.61,447.87 L408.65,453.18 L409.70,460.01 L410.60,467.36 L411.49,476.53 L412.24,486.05 L412.84,495.35 L413.44,506.80 L413.88,517.42 L414.33,530.66 L414.78,548.17 L415.08,563.93 L415.38,585.95 L415.53,591.14 L415.98,591.14 M415.98,591.14 L416.42,591.14 L416.57,590.92 L416.87,567.55 L417.17,551.21 L417.62,533.35 L418.07,520.03 L418.52,509.46 L419.11,498.18 L419.71,489.10 L420.31,481.61 L421.06,473.89 L421.95,466.46 L422.85,460.57 L423.90,455.24 L424.94,451.29 L425.54,449.56 L426.14,448.20 L426.59,447.39 L427.18,446.61 L427.78,446.14 L428.38,445.98 L428.98,446.13 L429.57,446.58 L430.17,447.34 L430.77,448.41 L431.37,449.81 L431.97,451.55 L432.56,453.65 L433.16,456.13 L434.21,461.51 L435.10,467.34 L436.00,474.56 L436.90,483.57 L437.49,490.88 L438.09,499.59 L438.69,510.21 L439.14,519.94 L439.74,536.53 L440.18,553.46 L440.48,568.54 L440.78,589.29 L440.93,591.14 L441.38,591.14 M441.38,591.14 L441.98,591.14 L442.13,588.86 L442.43,568.51 L442.72,553.70 L443.02,542.09 L443.47,528.38 L443.92,517.56 L444.52,506.03 L445.12,496.78 L445.86,487.44 L446.61,479.90 L447.51,472.61 L448.40,466.83 L449.45,461.59 L450.50,457.70 L451.09,456.00 L451.69,454.66 L452.14,453.88 L452.74,453.12 L453.33,452.67 L453.93,452.53 L454.53,452.70 L455.13,453.17 L455.73,453.95 L456.17,454.75 L456.77,456.09 L457.37,457.77 L458.42,461.59 L459.46,466.66 L460.36,472.17 L461.26,479.02 L462.15,487.55 L462.75,494.44 L463.35,502.63 L463.94,512.52 L464.39,521.49 L464.99,536.51 L465.44,551.40 L465.89,571.89 L466.19,591.14 L466.78,591.14 M466.78,591.14 L467.53,591.14 L467.68,586.76 L467.98,568.73 L468.28,555.20 L468.58,544.39 L469.03,531.44 L469.47,521.11 L470.07,510.01 L470.82,499.07 L471.57,490.37 L472.31,483.29 L473.21,476.43 L474.11,470.96 L475.00,466.65 L476.05,462.83 L476.50,461.55 L477.10,460.16 L477.54,459.34 L478.14,458.53 L478.74,458.03 L479.34,457.84 L479.93,457.96 L480.53,458.38 L481.13,459.11 L481.58,459.87 L482.18,461.16 L482.77,462.79 L483.82,466.51 L484.87,471.48 L485.76,476.90 L486.66,483.63 L487.41,490.48 L488.15,498.81 L488.90,509.11 L489.50,519.34 L490.10,532.19 L490.54,544.45 L490.99,560.33 L491.59,591.14 L492.34,591.14 M492.34,591.14 L493.09,591.14 L493.83,555.89 L494.58,533.53 L495.03,523.65 L495.63,512.96 L496.37,502.35 L497.12,493.87 L497.87,486.96 L498.76,480.24 L499.66,474.89 L500.56,470.65 L501.60,466.92 L502.05,465.67 L502.65,464.32 L503.10,463.52 L503.70,462.74 L504.29,462.28 L504.89,462.12 L505.49,462.27 L506.09,462.72 L506.68,463.48 L507.13,464.27 L507.73,465.59 L508.18,466.81 L509.22,470.44 L510.27,475.31 L511.17,480.64 L512.06,487.27 L512.81,494.02 L513.56,502.22 L514.31,512.35 L514.90,522.40 L515.50,534.99 L516.25,556.72 L516.55,568.63 L517.00,591.14 L517.74,591.14 M517.74,591.14 L518.64,591.14 L519.24,561.39 L519.69,546.43 L520.13,534.80 L520.73,522.54 L521.33,512.77 L521.93,504.74 L522.67,496.48 L523.42,489.73 L524.32,483.15 L525.21,477.91 L526.26,473.17 L526.71,471.54 L527.31,469.69 L527.75,468.54 L528.35,467.31 L528.80,466.60 L529.40,465.94 L529.85,465.64 L530.44,465.52 L531.04,465.70 L531.49,466.04 L532.09,466.76 L532.54,467.51 L533.13,468.79 L533.58,469.97 L534.63,473.52 L535.67,478.30 L536.57,483.54 L537.47,490.07 L538.22,496.72 L538.96,504.79 L539.56,512.58 L540.16,521.97 L540.76,533.60 L541.20,544.47 L541.65,558.15 L542.40,591.14 L543.15,591.14 M543.15,591.14 L544.04,591.14 L544.19,587.74 L544.49,572.43 L544.94,555.38 L545.69,535.37 L546.28,523.60 L546.88,514.15 L547.48,506.35 L548.23,498.30 L548.97,491.71 L549.87,485.28 L550.77,480.15 L551.66,476.09 L552.11,474.42 L552.71,472.53 L553.16,471.35 L553.76,470.07 L554.21,469.33 L554.80,468.63 L555.25,468.30 L555.85,468.14 L556.45,468.28 L556.89,468.59 L557.49,469.27 L557.94,469.98 L558.54,471.22 L558.99,472.37 L559.58,474.22 L560.03,475.84 L561.08,480.54 L561.98,485.69 L562.87,492.12 L563.62,498.67 L564.37,506.63 L564.96,514.30 L565.56,523.53 L566.16,534.94 L566.61,545.57 L567.06,558.89 L567.36,570.04 L567.80,591.14 L568.70,591.14 M568.70,591.14 L569.60,591.14 L570.05,570.20 L570.34,559.10 L570.79,545.85 L571.24,535.30 L571.84,523.98 L572.44,514.85 L573.03,507.27 L573.78,499.43 L574.53,492.98 L575.43,486.69 L576.32,481.67 L577.22,477.71 L577.67,476.08 L578.26,474.23 L578.71,473.08 L579.31,471.85 L579.76,471.14 L580.36,470.47 L580.80,470.18 L581.40,470.05 L582.00,470.23 L582.45,470.56 L583.05,471.28 L583.49,472.03 L584.09,473.31 L584.54,474.49 L585.59,478.05 L586.48,482.08 L587.38,487.15 L588.28,493.48 L589.02,499.95 L589.77,507.78 L590.52,517.45 L591.12,526.99 L591.71,538.85 L592.16,549.99 L592.61,564.12 L593.21,591.14 L594.10,591.14 M594.10,591.14 L595.00,591.14 L595.15,588.19 L595.45,573.65 L595.90,557.25 L596.65,537.79 L597.24,526.26 L597.84,516.96 L598.44,509.26 L599.19,501.31 L599.93,494.77 L600.83,488.38 L601.73,483.28 L602.62,479.24 L603.07,477.58 L603.67,475.69 L604.12,474.51 L604.71,473.24 L605.16,472.50 L605.76,471.79 L606.21,471.47 L606.81,471.30 L607.40,471.44 L607.85,471.75 L608.45,472.43 L608.90,473.14 L609.50,474.38 L609.95,475.54 L610.54,477.38 L610.99,479.02 L611.89,482.97 L612.78,487.97 L613.68,494.20 L614.43,500.57 L615.18,508.30 L615.92,517.81 L616.52,527.20 L617.12,538.83 L617.57,549.73 L618.01,563.47 L618.61,589.81 L618.76,591.14 L619.66,591.14 M619.66,591.14 L620.56,591.14 L621.15,564.68 L621.60,550.70 L622.05,539.66 L622.65,527.90 L623.25,518.45 L623.99,508.88 L624.74,501.13 L625.49,494.74 L626.38,488.50 L627.28,483.50 L628.18,479.56 L628.62,477.93 L629.22,476.09 L629.67,474.95 L630.27,473.72 L630.72,473.01 L631.31,472.34 L631.76,472.05 L632.36,471.92 L632.96,472.10 L633.41,472.43 L634.00,473.15 L634.45,473.90 L635.05,475.18 L635.50,476.37 L636.40,479.36 L637.29,483.24 L638.19,488.16 L639.09,494.31 L639.83,500.58 L640.58,508.20 L641.33,517.57 L641.92,526.79 L642.52,538.21 L643.27,557.40 L643.72,573.47 L644.02,587.62 L644.17,591.14 L645.06,591.14 M645.06,591.14 L645.96,591.14 L646.56,566.60 L647.01,552.23 L647.75,534.58 L648.50,521.55 L649.10,513.24 L649.85,504.70 L650.59,497.71 L651.49,490.88 L652.09,487.11 L652.68,483.85 L653.28,481.07 L653.88,478.71 L654.48,476.73 L655.08,475.12 L655.67,473.85 L656.42,472.72 L657.02,472.17 L657.32,472.01 L657.77,471.92 L658.21,472.00 L658.51,472.14 L659.11,472.67 L659.86,473.77 L660.46,475.01 L661.20,477.05 L661.80,479.09" fill="none" stroke="#0000ff" stroke-width="5.0" stroke-opacity="0.75" stroke-dasharray="0.9 31.10" stroke-dashoffset="11.65" clip-path="url(#cb)"/>
<path d="M64.20,502.73 L64.95,496.93 L65.69,491.97 L66.44,487.70 L67.34,483.36 L68.23,479.76 L69.28,476.37 L70.18,474.10 L71.22,472.11 L71.67,471.47 L72.27,470.81 L72.72,470.44 L73.32,470.14 L73.91,470.05 L74.36,470.11 L74.96,470.38 L75.41,470.72 L76.01,471.35 L76.45,471.97 L77.35,473.58 L78.40,476.13 L79.29,478.94 L80.04,481.77 L80.79,485.10 L81.53,488.98 L82.28,493.51 L83.48,502.40 L84.08,507.79 L84.67,513.99 L85.27,521.21 L85.87,529.74 L86.77,546.15 L87.51,565.38 L88.11,587.99 L88.26,591.14 L89.31,591.14 M89.31,591.14 L90.35,591.14 L91.25,560.39 L91.70,548.94 L92.29,536.72 L93.04,524.67 L93.79,515.01 L94.69,505.61 L95.58,497.94 L96.63,490.65 L97.67,484.74 L98.72,479.96 L99.92,475.66 L100.51,473.91 L101.11,472.42 L101.71,471.16 L102.46,469.91 L103.05,469.15 L103.65,468.61 L104.25,468.27 L105.00,468.14 L105.74,468.33 L106.34,468.72 L106.94,469.31 L107.54,470.13 L108.28,471.46 L108.88,472.78 L109.48,474.35 L110.08,476.18 L111.27,480.70 L112.32,485.72 L113.36,491.96 L114.26,498.50 L115.16,506.46 L116.05,516.31 L116.80,526.54 L117.40,536.63 L118.00,549.22 L118.45,561.14 L118.89,576.49 L119.19,589.79 L119.34,591.14 L120.24,591.14 M120.24,591.14 L121.29,591.14 L121.43,588.23 L121.88,569.64 L122.33,555.77 L122.78,544.75 L123.38,532.91 L123.97,523.29 L124.72,513.44 L125.62,503.86 L126.52,496.06 L127.56,488.64 L128.61,482.64 L129.65,477.77 L130.85,473.37 L131.45,471.58 L132.04,470.05 L132.64,468.75 L133.39,467.45 L133.99,466.65 L134.58,466.07 L135.18,465.70 L135.93,465.52 L136.68,465.66 L137.27,466.01 L138.02,466.74 L138.62,467.57 L139.37,468.92 L139.96,470.27 L140.56,471.86 L141.16,473.71 L142.36,478.28 L143.40,483.37 L144.45,489.69 L145.34,496.32 L146.24,504.41 L147.14,514.45 L147.88,524.91 L148.48,535.28 L149.08,548.29 L149.53,560.72 L149.98,576.90 L150.28,591.14 L151.17,591.14 M151.17,591.14 L152.22,591.14 L152.37,588.59 L152.67,574.79 L153.12,558.97 L153.56,546.72 L154.16,533.81 L154.91,521.19 L155.66,511.13 L156.55,501.37 L157.45,493.44 L158.49,485.89 L159.54,479.78 L160.59,474.81 L161.78,470.32 L162.38,468.49 L162.98,466.91 L163.58,465.57 L164.32,464.22 L164.92,463.38 L165.67,462.64 L166.27,462.28 L167.01,462.12 L167.76,462.28 L168.36,462.64 L169.11,463.39 L169.70,464.23 L170.45,465.60 L171.05,466.96 L171.65,468.58 L172.24,470.45 L173.44,475.08 L174.63,481.05 L175.68,487.66 L176.58,494.61 L177.47,503.12 L178.22,511.80 L178.97,522.51 L179.57,533.16 L180.16,546.63 L180.61,559.61 L180.91,570.40 L181.36,591.14 L182.26,591.14 M182.26,591.14 L183.15,591.14 L183.30,588.34 L183.60,573.72 L184.05,557.18 L184.50,544.49 L185.09,531.21 L185.69,520.61 L186.44,509.89 L187.34,499.57 L188.23,491.22 L189.28,483.30 L190.33,476.89 L191.52,471.02 L192.72,466.42 L193.31,464.54 L194.06,462.55 L194.66,461.23 L195.41,459.89 L196.00,459.07 L196.75,458.34 L197.35,457.99 L198.10,457.84 L198.84,458.01 L199.59,458.51 L200.34,459.34 L200.94,460.25 L201.68,461.71 L202.28,463.15 L202.88,464.84 L203.48,466.81 L204.67,471.64 L205.87,477.88 L206.91,484.78 L207.81,492.06 L208.56,499.39 L209.15,506.33 L209.75,514.51 L210.35,524.38 L210.95,536.67 L211.55,552.77 L211.99,569.10 L212.44,591.14 L213.19,591.14 M213.19,591.14 L214.09,591.14 L214.24,587.39 L214.53,571.85 L214.98,554.52 L215.43,541.37 L216.03,527.68 L216.63,516.81 L217.37,505.86 L218.27,495.33 L219.17,486.83 L220.21,478.76 L221.26,472.23 L222.45,466.24 L223.65,461.53 L224.25,459.61 L224.99,457.55 L225.59,456.18 L226.34,454.79 L226.94,453.92 L227.68,453.13 L228.43,452.67 L229.18,452.53 L229.93,452.72 L230.67,453.22 L231.42,454.06 L232.02,454.98 L232.77,456.46 L233.36,457.91 L233.96,459.62 L234.56,461.60 L235.75,466.47 L236.95,472.77 L238.00,479.75 L238.89,487.14 L239.64,494.59 L240.24,501.66 L240.83,510.02 L241.43,520.15 L242.03,532.84 L242.63,549.63 L243.08,566.91 L243.52,591.14 L244.27,591.14 M244.27,591.14 L245.02,591.14 L245.62,562.27 L245.92,550.83 L246.51,533.27 L247.11,520.03 L247.71,509.45 L248.31,500.70 L249.05,491.58 L249.95,482.61 L251.00,474.13 L252.04,467.27 L253.24,460.97 L253.84,458.33 L254.58,455.46 L255.18,453.48 L255.93,451.36 L256.68,449.61 L257.42,448.23 L258.02,447.36 L258.77,446.58 L259.51,446.12 L260.26,445.98 L261.01,446.17 L261.76,446.68 L262.50,447.52 L263.10,448.45 L263.85,449.93 L264.45,451.39 L265.19,453.57 L265.79,455.64 L266.99,460.71 L268.18,467.28 L269.23,474.56 L270.12,482.31 L270.87,490.16 L271.62,499.74 L272.22,509.14 L272.81,520.74 L273.41,535.76 L273.86,550.71 L274.31,571.41 L274.61,591.14 L275.21,591.14 M275.21,591.14 L275.95,591.14 L276.40,564.99 L276.85,545.83 L277.45,527.59 L278.04,513.94 L278.64,503.09 L279.24,494.13 L279.99,484.82 L280.73,477.06 L281.78,468.14 L282.98,460.00 L284.17,453.55 L284.77,450.84 L285.52,447.89 L286.11,445.84 L286.86,443.65 L287.61,441.83 L288.36,440.37 L289.10,439.25 L289.85,438.46 L290.60,438.00 L291.34,437.85 L292.09,438.03 L292.84,438.53 L293.59,439.37 L294.33,440.56 L295.08,442.11 L295.68,443.63 L296.43,445.91 L297.02,448.05 L298.22,453.32 L299.41,460.13 L300.46,467.73 L301.51,477.38 L302.25,486.00 L303.00,496.68 L303.60,507.35 L304.05,517.16 L304.64,534.03 L305.09,551.47 L305.39,567.27 L305.69,589.51 L305.84,591.14 L306.29,591.14 M306.29,591.14 L306.89,591.14 L307.19,568.11 L307.63,545.08 L308.08,528.82 L308.68,512.64 L309.28,500.18 L309.88,490.10 L310.62,479.78 L311.52,469.74 L312.56,460.32 L313.76,451.74 L314.96,444.92 L315.55,442.06 L316.30,438.92 L317.05,436.22 L317.80,433.94 L318.54,432.03 L319.29,430.48 L320.04,429.27 L320.78,428.39 L321.53,427.84 L321.98,427.66 L322.43,427.60 L323.17,427.75 L323.92,428.23 L324.67,429.05 L325.42,430.21 L326.16,431.74 L326.91,433.66 L327.66,436.01 L328.26,438.22 L329.45,443.66 L330.65,450.72 L331.69,458.63 L332.74,468.74 L333.49,477.85 L334.23,489.27 L334.83,500.86 L335.28,511.72 L335.73,525.44 L336.18,543.95 L336.47,561.10 L336.77,586.15 L336.92,591.14 L337.22,591.14 M337.22,591.14 L337.67,591.14 L337.82,586.40 L338.12,560.84 L338.42,543.32 L338.87,524.33 L339.46,506.16 L340.06,492.51 L340.66,481.61 L341.41,470.56 L342.30,459.89 L343.35,449.91 L344.54,440.83 L345.14,437.01 L345.89,432.80 L346.49,429.83 L347.23,426.57 L347.98,423.75 L348.73,421.34 L349.48,419.32 L350.37,417.36 L351.12,416.10 L352.02,415.02 L352.46,414.66 L352.91,414.41 L353.66,414.25 L354.11,414.30 L354.56,414.48 L355.30,415.03 L356.05,415.93 L356.80,417.18 L357.55,418.81 L358.29,420.85 L359.04,423.33 L359.64,425.67 L360.38,429.08 L360.98,432.25 L362.18,440.01 L363.22,448.79 L364.12,458.39 L364.87,468.46 L365.47,478.49 L366.06,491.14 L366.51,503.26 L366.96,519.05 L367.41,541.53 L368.01,591.14 L368.31,591.14 M368.31,591.14 L368.60,591.14 L369.20,539.86 L369.65,517.06 L370.10,500.86 L370.70,484.65 L371.29,472.11 L372.04,459.65 L372.94,447.79 L374.13,435.41 L375.33,425.73 L375.93,421.64 L376.67,417.13 L377.42,413.18 L378.17,409.73 L378.92,406.73 L379.81,403.67 L380.56,401.54 L381.46,399.44 L382.35,397.83 L383.25,396.69 L383.70,396.29 L384.15,396.00 L384.59,395.83 L385.04,395.77 L385.49,395.83 L385.94,396.01 L386.69,396.57 L387.58,397.69 L388.33,399.04 L389.08,400.78 L389.82,402.94 L390.57,405.58 L391.32,408.76 L391.92,411.73 L392.51,415.14 L393.11,419.07 L393.71,423.59 L394.76,433.30 L395.65,444.17 L396.40,455.91 L397.00,468.04 L397.45,479.61 L397.89,494.60 L398.19,507.66 L398.49,524.98 L398.79,550.54 L399.09,591.14 L399.24,591.14 M399.24,591.14 L399.54,591.14 L399.69,565.20 L399.99,532.87 L400.43,504.34 L400.88,485.37 L401.48,467.07 L402.08,453.21 L402.83,439.61 L403.72,426.74 L404.92,413.33 L405.51,407.77 L406.26,401.63 L407.01,396.25 L407.76,391.51 L408.50,387.32 L409.40,382.94 L410.30,379.17 L411.19,375.97 L412.09,373.27 L412.99,371.06 L413.88,369.31 L414.33,368.60 L414.93,367.83 L415.53,367.26 L415.98,366.96 L416.42,366.77 L416.87,366.69 L417.32,366.73 L417.77,366.89 L418.52,367.42 L418.96,367.91 L419.41,368.53 L420.16,369.88 L420.91,371.65 L421.65,373.88 L422.40,376.65 L423.15,380.01 L423.75,383.21 L424.34,386.94 L424.94,391.30 L425.54,396.42 L426.44,405.95 L427.33,418.70 L427.93,430.02 L428.53,445.07 L428.98,460.52 L429.42,482.84 L429.87,522.25 L430.02,546.14 L430.17,589.26 L430.32,591.14 M430.32,591.14 L430.47,572.46 L430.62,536.98 L430.92,499.51 L431.37,468.22 L431.97,442.32 L432.71,420.39 L433.16,410.18 L433.76,398.70 L434.36,388.97 L435.10,378.56 L435.85,369.60 L436.60,361.72 L437.64,352.10 L438.69,343.75 L439.89,335.43 L441.08,328.15 L442.43,320.97 L443.77,314.68 L445.27,308.58 L446.91,302.79 L448.55,297.85 L450.20,293.66 L451.09,291.67 L451.99,289.87 L452.89,288.26 L453.78,286.83 L454.68,285.57 L455.58,284.48 L456.47,283.55 L457.52,282.68 L458.42,282.10 L459.31,281.68 L460.21,281.41 L461.26,281.30 L462.30,281.40 L463.20,281.65 L464.09,282.05 L464.99,282.61 L466.04,283.47 L466.93,284.38 L467.83,285.45 L468.73,286.69 L469.62,288.11 L470.52,289.70 L471.42,291.48 L472.31,293.45 L474.11,298.01 L475.75,302.98 L477.39,308.80 L478.89,314.94 L480.23,321.27 L481.58,328.49 L482.77,335.82 L483.97,344.20 L485.02,352.61 L486.06,362.31 L486.81,370.27 L487.56,379.34 L488.30,389.88 L488.90,399.76 L489.50,411.44 L489.95,421.88 L490.69,444.45 L491.29,471.53 L491.74,505.28 L492.04,548.61 L492.19,591.14 M492.19,591.14 L492.34,591.14 L492.79,515.04 L493.23,479.26 L493.68,458.17 L494.13,443.34 L494.73,428.75 L495.33,417.72 L496.22,405.23 L497.12,395.87 L497.72,390.83 L498.32,386.54 L498.91,382.87 L499.51,379.72 L500.11,377.02 L500.86,374.19 L501.60,371.89 L502.35,370.07 L503.10,368.67 L503.55,368.03 L503.99,367.51 L504.74,366.94 L505.19,366.76 L505.64,366.69 L506.09,366.75 L506.53,366.91 L506.98,367.19 L507.58,367.74 L508.18,368.48 L508.63,369.16 L509.52,370.87 L510.42,373.03 L511.32,375.67 L512.21,378.83 L513.11,382.53 L514.01,386.85 L514.75,390.98 L515.50,395.65 L516.25,400.95 L517.00,406.98 L517.59,412.45 L518.79,425.60 L519.69,438.17 L520.58,454.45 L521.18,468.65 L521.78,487.56 L522.23,507.40 L522.52,525.90 L522.82,553.42 L523.12,591.14 L523.27,591.14 M523.27,591.14 L523.42,591.14 L523.57,585.85 L523.72,561.33 L524.02,531.49 L524.32,512.31 L524.62,498.20 L525.06,482.29 L525.66,466.68 L526.26,454.86 L527.01,443.35 L527.90,432.68 L528.95,423.11 L529.55,418.65 L530.15,414.78 L530.74,411.42 L531.49,407.81 L532.09,405.35 L532.84,402.75 L533.58,400.62 L534.33,398.92 L535.08,397.60 L535.53,396.99 L535.97,396.51 L536.72,395.98 L537.17,395.82 L537.62,395.78 L538.07,395.85 L538.51,396.04 L538.96,396.34 L539.41,396.75 L540.31,397.93 L541.05,399.26 L541.95,401.30 L542.70,403.39 L543.60,406.40 L544.34,409.34 L545.09,412.74 L545.84,416.62 L546.58,421.07 L547.18,425.09 L548.38,434.60 L549.57,446.74 L550.47,458.33 L551.22,470.45 L551.81,482.57 L552.41,498.10 L552.86,513.42 L553.31,534.50 L553.61,554.74 L553.91,586.54 L554.06,591.14 L554.35,591.14 M554.35,591.14 L554.65,591.14 L554.95,558.88 L555.25,537.95 L555.55,522.87 L556.00,506.07 L556.45,493.35 L557.04,480.20 L557.79,467.57 L558.54,457.68 L559.44,448.23 L560.48,439.57 L561.68,431.91 L562.27,428.78 L563.02,425.42 L563.62,423.11 L564.37,420.67 L565.11,418.67 L565.86,417.07 L566.61,415.84 L567.36,414.98 L568.10,414.45 L568.55,414.29 L569.00,414.25 L569.45,414.32 L569.90,414.51 L570.64,415.08 L571.54,416.19 L572.29,417.47 L573.18,419.46 L573.93,421.52 L574.68,423.96 L575.43,426.81 L576.17,430.11 L576.77,433.12 L577.52,437.37 L578.12,441.23 L579.31,450.42 L580.36,460.53 L581.25,471.36 L582.00,482.60 L582.60,493.72 L583.20,507.73 L583.79,526.52 L584.24,546.41 L584.54,565.10 L584.84,591.14 L585.29,591.14 M585.29,591.14 L585.74,591.14 L586.18,557.23 L586.48,541.10 L586.93,523.40 L587.38,510.14 L587.83,499.58 L588.43,488.26 L589.02,479.09 L589.77,469.74 L590.82,459.40 L591.86,451.33 L593.06,444.13 L594.25,438.58 L594.85,436.32 L595.60,433.92 L596.35,431.95 L597.09,430.37 L597.84,429.17 L598.59,428.31 L599.34,427.79 L600.08,427.60 L600.53,427.64 L600.98,427.80 L601.73,428.31 L602.47,429.15 L603.22,430.32 L603.97,431.82 L604.71,433.69 L605.46,435.93 L606.21,438.57 L606.96,441.66 L607.55,444.47 L608.30,448.48 L608.90,452.12 L610.09,460.80 L611.14,470.34 L612.04,480.53 L612.78,491.02 L613.38,501.30 L613.98,514.05 L614.58,530.72 L615.03,547.65 L615.32,562.67 L615.77,591.14 L616.22,591.14 M616.22,591.14 L616.82,591.14 L617.57,548.81 L618.01,532.09 L618.61,515.75 L619.21,503.35 L619.81,493.44 L620.41,485.25 L621.15,476.76 L622.20,467.25 L623.25,459.75 L624.44,453.02 L625.64,447.82 L626.23,445.71 L626.98,443.47 L627.58,441.97 L628.33,440.45 L629.07,439.29 L629.82,438.48 L630.57,438.01 L631.31,437.85 L632.06,438.02 L632.81,438.51 L633.56,439.33 L634.30,440.48 L635.05,441.96 L635.80,443.81 L636.55,446.04 L637.14,448.11 L637.89,451.10 L638.49,453.83 L639.68,460.36 L640.88,468.59 L641.92,477.63 L642.67,485.50 L643.42,494.95 L644.02,504.08 L644.61,515.16 L645.21,529.16 L645.81,548.03 L646.26,568.11 L646.56,587.10 L646.71,591.14 L647.30,591.14 M647.30,591.14 L647.90,591.14 L648.05,586.80 L648.35,568.16 L648.80,548.47 L649.25,534.06 L649.85,519.46 L650.29,510.72 L650.89,501.04 L651.49,493.01 L652.24,484.66 L653.13,476.48 L654.18,468.80 L655.22,462.67 L656.42,457.14 L657.02,454.88 L657.62,452.92 L658.21,451.23 L658.96,449.48 L659.56,448.35 L660.31,447.25 L661.05,446.50 L661.80,446.08" fill="none" stroke="#ff0000" stroke-width="5.0" stroke-linecap="round" stroke-linejoin="round" stroke-dasharray="4.2 5.9 0 5.9 4.2 11.8" stroke-dashoffset="5.30" clip-path="url(#cb)"/><path d="M64.20,502.73 L64.95,496.93 L65.69,491.97 L66.44,487.70 L67.34,483.36 L68.23,479.76 L69.28,476.37 L70.18,474.10 L71.22,472.11 L71.67,471.47 L72.27,470.81 L72.72,470.44 L73.32,470.14 L73.91,470.05 L74.36,470.11 L74.96,470.38 L75.41,470.72 L76.01,471.35 L76.45,471.97 L77.35,473.58 L78.40,476.13 L79.29,478.94 L80.04,481.77 L80.79,485.10 L81.53,488.98 L82.28,493.51 L83.48,502.40 L84.08,507.79 L84.67,513.99 L85.27,521.21 L85.87,529.74 L86.77,546.15 L87.51,565.38 L88.11,587.99 L88.26,591.14 L89.31,591.14 M89.31,591.14 L90.35,591.14 L91.25,560.39 L91.70,548.94 L92.29,536.72 L93.04,524.67 L93.79,515.01 L94.69,505.61 L95.58,497.94 L96.63,490.65 L97.67,484.74 L98.72,479.96 L99.92,475.66 L100.51,473.91 L101.11,472.42 L101.71,471.16 L102.46,469.91 L103.05,469.15 L103.65,468.61 L104.25,468.27 L105.00,468.14 L105.74,468.33 L106.34,468.72 L106.94,469.31 L107.54,470.13 L108.28,471.46 L108.88,472.78 L109.48,474.35 L110.08,476.18 L111.27,480.70 L112.32,485.72 L113.36,491.96 L114.26,498.50 L115.16,506.46 L116.05,516.31 L116.80,526.54 L117.40,536.63 L118.00,549.22 L118.45,561.14 L118.89,576.49 L119.19,589.79 L119.34,591.14 L120.24,591.14 M120.24,591.14 L121.29,591.14 L121.43,588.23 L121.88,569.64 L122.33,555.77 L122.78,544.75 L123.38,532.91 L123.97,523.29 L124.72,513.44 L125.62,503.86 L126.52,496.06 L127.56,488.64 L128.61,482.64 L129.65,477.77 L130.85,473.37 L131.45,471.58 L132.04,470.05 L132.64,468.75 L133.39,467.45 L133.99,466.65 L134.58,466.07 L135.18,465.70 L135.93,465.52 L136.68,465.66 L137.27,466.01 L138.02,466.74 L138.62,467.57 L139.37,468.92 L139.96,470.27 L140.56,471.86 L141.16,473.71 L142.36,478.28 L143.40,483.37 L144.45,489.69 L145.34,496.32 L146.24,504.41 L147.14,514.45 L147.88,524.91 L148.48,535.28 L149.08,548.29 L149.53,560.72 L149.98,576.90 L150.28,591.14 L151.17,591.14 M151.17,591.14 L152.22,591.14 L152.37,588.59 L152.67,574.79 L153.12,558.97 L153.56,546.72 L154.16,533.81 L154.91,521.19 L155.66,511.13 L156.55,501.37 L157.45,493.44 L158.49,485.89 L159.54,479.78 L160.59,474.81 L161.78,470.32 L162.38,468.49 L162.98,466.91 L163.58,465.57 L164.32,464.22 L164.92,463.38 L165.67,462.64 L166.27,462.28 L167.01,462.12 L167.76,462.28 L168.36,462.64 L169.11,463.39 L169.70,464.23 L170.45,465.60 L171.05,466.96 L171.65,468.58 L172.24,470.45 L173.44,475.08 L174.63,481.05 L175.68,487.66 L176.58,494.61 L177.47,503.12 L178.22,511.80 L178.97,522.51 L179.57,533.16 L180.16,546.63 L180.61,559.61 L180.91,570.40 L181.36,591.14 L182.26,591.14 M182.26,591.14 L183.15,591.14 L183.30,588.34 L183.60,573.72 L184.05,557.18 L184.50,544.49 L185.09,531.21 L185.69,520.61 L186.44,509.89 L187.34,499.57 L188.23,491.22 L189.28,483.30 L190.33,476.89 L191.52,471.02 L192.72,466.42 L193.31,464.54 L194.06,462.55 L194.66,461.23 L195.41,459.89 L196.00,459.07 L196.75,458.34 L197.35,457.99 L198.10,457.84 L198.84,458.01 L199.59,458.51 L200.34,459.34 L200.94,460.25 L201.68,461.71 L202.28,463.15 L202.88,464.84 L203.48,466.81 L204.67,471.64 L205.87,477.88 L206.91,484.78 L207.81,492.06 L208.56,499.39 L209.15,506.33 L209.75,514.51 L210.35,524.38 L210.95,536.67 L211.55,552.77 L211.99,569.10 L212.44,591.14 L213.19,591.14 M213.19,591.14 L214.09,591.14 L214.24,587.39 L214.53,571.85 L214.98,554.52 L215.43,541.37 L216.03,527.68 L216.63,516.81 L217.37,505.86 L218.27,495.33 L219.17,486.83 L220.21,478.76 L221.26,472.23 L222.45,466.24 L223.65,461.53 L224.25,459.61 L224.99,457.55 L225.59,456.18 L226.34,454.79 L226.94,453.92 L227.68,453.13 L228.43,452.67 L229.18,452.53 L229.93,452.72 L230.67,453.22 L231.42,454.06 L232.02,454.98 L232.77,456.46 L233.36,457.91 L233.96,459.62 L234.56,461.60 L235.75,466.47 L236.95,472.77 L238.00,479.75 L238.89,487.14 L239.64,494.59 L240.24,501.66 L240.83,510.02 L241.43,520.15 L242.03,532.84 L242.63,549.63 L243.08,566.91 L243.52,591.14 L244.27,591.14 M244.27,591.14 L245.02,591.14 L245.62,562.27 L245.92,550.83 L246.51,533.27 L247.11,520.03 L247.71,509.45 L248.31,500.70 L249.05,491.58 L249.95,482.61 L251.00,474.13 L252.04,467.27 L253.24,460.97 L253.84,458.33 L254.58,455.46 L255.18,453.48 L255.93,451.36 L256.68,449.61 L257.42,448.23 L258.02,447.36 L258.77,446.58 L259.51,446.12 L260.26,445.98 L261.01,446.17 L261.76,446.68 L262.50,447.52 L263.10,448.45 L263.85,449.93 L264.45,451.39 L265.19,453.57 L265.79,455.64 L266.99,460.71 L268.18,467.28 L269.23,474.56 L270.12,482.31 L270.87,490.16 L271.62,499.74 L272.22,509.14 L272.81,520.74 L273.41,535.76 L273.86,550.71 L274.31,571.41 L274.61,591.14 L275.21,591.14 M275.21,591.14 L275.95,591.14 L276.40,564.99 L276.85,545.83 L277.45,527.59 L278.04,513.94 L278.64,503.09 L279.24,494.13 L279.99,484.82 L280.73,477.06 L281.78,468.14 L282.98,460.00 L284.17,453.55 L284.77,450.84 L285.52,447.89 L286.11,445.84 L286.86,443.65 L287.61,441.83 L288.36,440.37 L289.10,439.25 L289.85,438.46 L290.60,438.00 L291.34,437.85 L292.09,438.03 L292.84,438.53 L293.59,439.37 L294.33,440.56 L295.08,442.11 L295.68,443.63 L296.43,445.91 L297.02,448.05 L298.22,453.32 L299.41,460.13 L300.46,467.73 L301.51,477.38 L302.25,486.00 L303.00,496.68 L303.60,507.35 L304.05,517.16 L304.64,534.03 L305.09,551.47 L305.39,567.27 L305.69,589.51 L305.84,591.14 L306.29,591.14 M306.29,591.14 L306.89,591.14 L307.19,568.11 L307.63,545.08 L308.08,528.82 L308.68,512.64 L309.28,500.18 L309.88,490.10 L310.62,479.78 L311.52,469.74 L312.56,460.32 L313.76,451.74 L314.96,444.92 L315.55,442.06 L316.30,438.92 L317.05,436.22 L317.80,433.94 L318.54,432.03 L319.29,430.48 L320.04,429.27 L320.78,428.39 L321.53,427.84 L321.98,427.66 L322.43,427.60 L323.17,427.75 L323.92,428.23 L324.67,429.05 L325.42,430.21 L326.16,431.74 L326.91,433.66 L327.66,436.01 L328.26,438.22 L329.45,443.66 L330.65,450.72 L331.69,458.63 L332.74,468.74 L333.49,477.85 L334.23,489.27 L334.83,500.86 L335.28,511.72 L335.73,525.44 L336.18,543.95 L336.47,561.10 L336.77,586.15 L336.92,591.14 L337.22,591.14 M337.22,591.14 L337.67,591.14 L337.82,586.40 L338.12,560.84 L338.42,543.32 L338.87,524.33 L339.46,506.16 L340.06,492.51 L340.66,481.61 L341.41,470.56 L342.30,459.89 L343.35,449.91 L344.54,440.83 L345.14,437.01 L345.89,432.80 L346.49,429.83 L347.23,426.57 L347.98,423.75 L348.73,421.34 L349.48,419.32 L350.37,417.36 L351.12,416.10 L352.02,415.02 L352.46,414.66 L352.91,414.41 L353.66,414.25 L354.11,414.30 L354.56,414.48 L355.30,415.03 L356.05,415.93 L356.80,417.18 L357.55,418.81 L358.29,420.85 L359.04,423.33 L359.64,425.67 L360.38,429.08 L360.98,432.25 L362.18,440.01 L363.22,448.79 L364.12,458.39 L364.87,468.46 L365.47,478.49 L366.06,491.14 L366.51,503.26 L366.96,519.05 L367.41,541.53 L368.01,591.14 L368.31,591.14 M368.31,591.14 L368.60,591.14 L369.20,539.86 L369.65,517.06 L370.10,500.86 L370.70,484.65 L371.29,472.11 L372.04,459.65 L372.94,447.79 L374.13,435.41 L375.33,425.73 L375.93,421.64 L376.67,417.13 L377.42,413.18 L378.17,409.73 L378.92,406.73 L379.81,403.67 L380.56,401.54 L381.46,399.44 L382.35,397.83 L383.25,396.69 L383.70,396.29 L384.15,396.00 L384.59,395.83 L385.04,395.77 L385.49,395.83 L385.94,396.01 L386.69,396.57 L387.58,397.69 L388.33,399.04 L389.08,400.78 L389.82,402.94 L390.57,405.58 L391.32,408.76 L391.92,411.73 L392.51,415.14 L393.11,419.07 L393.71,423.59 L394.76,433.30 L395.65,444.17 L396.40,455.91 L397.00,468.04 L397.45,479.61 L397.89,494.60 L398.19,507.66 L398.49,524.98 L398.79,550.54 L399.09,591.14 L399.24,591.14 M399.24,591.14 L399.54,591.14 L399.69,565.20 L399.99,532.87 L400.43,504.34 L400.88,485.37 L401.48,467.07 L402.08,453.21 L402.83,439.61 L403.72,426.74 L404.92,413.33 L405.51,407.77 L406.26,401.63 L407.01,396.25 L407.76,391.51 L408.50,387.32 L409.40,382.94 L410.30,379.17 L411.19,375.97 L412.09,373.27 L412.99,371.06 L413.88,369.31 L414.33,368.60 L414.93,367.83 L415.53,367.26 L415.98,366.96 L416.42,366.77 L416.87,366.69 L417.32,366.73 L417.77,366.89 L418.52,367.42 L418.96,367.91 L419.41,368.53 L420.16,369.88 L420.91,371.65 L421.65,373.88 L422.40,376.65 L423.15,380.01 L423.75,383.21 L424.34,386.94 L424.94,391.30 L425.54,396.42 L426.44,405.95 L427.33,418.70 L427.93,430.02 L428.53,445.07 L428.98,460.52 L429.42,482.84 L429.87,522.25 L430.02,546.14 L430.17,589.26 L430.32,591.14 M430.32,591.14 L430.47,572.46 L430.62,536.98 L430.92,499.51 L431.37,468.22 L431.97,442.32 L432.71,420.39 L433.16,410.18 L433.76,398.70 L434.36,388.97 L435.10,378.56 L435.85,369.60 L436.60,361.72 L437.64,352.10 L438.69,343.75 L439.89,335.43 L441.08,328.15 L442.43,320.97 L443.77,314.68 L445.27,308.58 L446.91,302.79 L448.55,297.85 L450.20,293.66 L451.09,291.67 L451.99,289.87 L452.89,288.26 L453.78,286.83 L454.68,285.57 L455.58,284.48 L456.47,283.55 L457.52,282.68 L458.42,282.10 L459.31,281.68 L460.21,281.41 L461.26,281.30 L462.30,281.40 L463.20,281.65 L464.09,282.05 L464.99,282.61 L466.04,283.47 L466.93,284.38 L467.83,285.45 L468.73,286.69 L469.62,288.11 L470.52,289.70 L471.42,291.48 L472.31,293.45 L474.11,298.01 L475.75,302.98 L477.39,308.80 L478.89,314.94 L480.23,321.27 L481.58,328.49 L482.77,335.82 L483.97,344.20 L485.02,352.61 L486.06,362.31 L486.81,370.27 L487.56,379.34 L488.30,389.88 L488.90,399.76 L489.50,411.44 L489.95,421.88 L490.69,444.45 L491.29,471.53 L491.74,505.28 L492.04,548.61 L492.19,591.14 M492.19,591.14 L492.34,591.14 L492.79,515.04 L493.23,479.26 L493.68,458.17 L494.13,443.34 L494.73,428.75 L495.33,417.72 L496.22,405.23 L497.12,395.87 L497.72,390.83 L498.32,386.54 L498.91,382.87 L499.51,379.72 L500.11,377.02 L500.86,374.19 L501.60,371.89 L502.35,370.07 L503.10,368.67 L503.55,368.03 L503.99,367.51 L504.74,366.94 L505.19,366.76 L505.64,366.69 L506.09,366.75 L506.53,366.91 L506.98,367.19 L507.58,367.74 L508.18,368.48 L508.63,369.16 L509.52,370.87 L510.42,373.03 L511.32,375.67 L512.21,378.83 L513.11,382.53 L514.01,386.85 L514.75,390.98 L515.50,395.65 L516.25,400.95 L517.00,406.98 L517.59,412.45 L518.79,425.60 L519.69,438.17 L520.58,454.45 L521.18,468.65 L521.78,487.56 L522.23,507.40 L522.52,525.90 L522.82,553.42 L523.12,591.14 L523.27,591.14 M523.27,591.14 L523.42,591.14 L523.57,585.85 L523.72,561.33 L524.02,531.49 L524.32,512.31 L524.62,498.20 L525.06,482.29 L525.66,466.68 L526.26,454.86 L527.01,443.35 L527.90,432.68 L528.95,423.11 L529.55,418.65 L530.15,414.78 L530.74,411.42 L531.49,407.81 L532.09,405.35 L532.84,402.75 L533.58,400.62 L534.33,398.92 L535.08,397.60 L535.53,396.99 L535.97,396.51 L536.72,395.98 L537.17,395.82 L537.62,395.78 L538.07,395.85 L538.51,396.04 L538.96,396.34 L539.41,396.75 L540.31,397.93 L541.05,399.26 L541.95,401.30 L542.70,403.39 L543.60,406.40 L544.34,409.34 L545.09,412.74 L545.84,416.62 L546.58,421.07 L547.18,425.09 L548.38,434.60 L549.57,446.74 L550.47,458.33 L551.22,470.45 L551.81,482.57 L552.41,498.10 L552.86,513.42 L553.31,534.50 L553.61,554.74 L553.91,586.54 L554.06,591.14 L554.35,591.14 M554.35,591.14 L554.65,591.14 L554.95,558.88 L555.25,537.95 L555.55,522.87 L556.00,506.07 L556.45,493.35 L557.04,480.20 L557.79,467.57 L558.54,457.68 L559.44,448.23 L560.48,439.57 L561.68,431.91 L562.27,428.78 L563.02,425.42 L563.62,423.11 L564.37,420.67 L565.11,418.67 L565.86,417.07 L566.61,415.84 L567.36,414.98 L568.10,414.45 L568.55,414.29 L569.00,414.25 L569.45,414.32 L569.90,414.51 L570.64,415.08 L571.54,416.19 L572.29,417.47 L573.18,419.46 L573.93,421.52 L574.68,423.96 L575.43,426.81 L576.17,430.11 L576.77,433.12 L577.52,437.37 L578.12,441.23 L579.31,450.42 L580.36,460.53 L581.25,471.36 L582.00,482.60 L582.60,493.72 L583.20,507.73 L583.79,526.52 L584.24,546.41 L584.54,565.10 L584.84,591.14 L585.29,591.14 M585.29,591.14 L585.74,591.14 L586.18,557.23 L586.48,541.10 L586.93,523.40 L587.38,510.14 L587.83,499.58 L588.43,488.26 L589.02,479.09 L589.77,469.74 L590.82,459.40 L591.86,451.33 L593.06,444.13 L594.25,438.58 L594.85,436.32 L595.60,433.92 L596.35,431.95 L597.09,430.37 L597.84,429.17 L598.59,428.31 L599.34,427.79 L600.08,427.60 L600.53,427.64 L600.98,427.80 L601.73,428.31 L602.47,429.15 L603.22,430.32 L603.97,431.82 L604.71,433.69 L605.46,435.93 L606.21,438.57 L606.96,441.66 L607.55,444.47 L608.30,448.48 L608.90,452.12 L610.09,460.80 L611.14,470.34 L612.04,480.53 L612.78,491.02 L613.38,501.30 L613.98,514.05 L614.58,530.72 L615.03,547.65 L615.32,562.67 L615.77,591.14 L616.22,591.14 M616.22,591.14 L616.82,591.14 L617.57,548.81 L618.01,532.09 L618.61,515.75 L619.21,503.35 L619.81,493.44 L620.41,485.25 L621.15,476.76 L622.20,467.25 L623.25,459.75 L624.44,453.02 L625.64,447.82 L626.23,445.71 L626.98,443.47 L627.58,441.97 L628.33,440.45 L629.07,439.29 L629.82,438.48 L630.57,438.01 L631.31,437.85 L632.06,438.02 L632.81,438.51 L633.56,439.33 L634.30,440.48 L635.05,441.96 L635.80,443.81 L636.55,446.04 L637.14,448.11 L637.89,451.10 L638.49,453.83 L639.68,460.36 L640.88,468.59 L641.92,477.63 L642.67,485.50 L643.42,494.95 L644.02,504.08 L644.61,515.16 L645.21,529.16 L645.81,548.03 L646.26,568.11 L646.56,587.10 L646.71,591.14 L647.30,591.14 M647.30,591.14 L647.90,591.14 L648.05,586.80 L648.35,568.16 L648.80,548.47 L649.25,534.06 L649.85,519.46 L650.29,510.72 L650.89,501.04 L651.49,493.01 L652.24,484.66 L653.13,476.48 L654.18,468.80 L655.22,462.67 L656.42,457.14 L657.02,454.88 L657.62,452.92 L658.21,451.23 L658.96,449.48 L659.56,448.35 L660.31,447.25 L661.05,446.50 L661.80,446.08" fill="none" stroke="#ff0000" stroke-width="5.0" stroke-opacity="0.75" stroke-dasharray="0.9 31.10" stroke-dashoffset="11.65" clip-path="url(#cb)"/>
<line x1="67" y1="281.0" x2="67" y2="540.0" stroke="#111" stroke-width="1"/>
<line x1="659" y1="281.0" x2="659" y2="540.0" stroke="#111" stroke-width="1"/>
<line x1="66.5" y1="281.5" x2="659.5" y2="281.5" stroke="#4a4a4a" stroke-width="1"/>
<line x1="66.5" y1="539.5" x2="659.5" y2="539.5" stroke="#4a4a4a" stroke-width="1"/>
<line x1="263.05" y1="539.50" x2="263.05" y2="533.50" stroke="#4a4a4a" stroke-width="1"/>
<line x1="263.05" y1="281.50" x2="263.05" y2="287.50" stroke="#4a4a4a" stroke-width="1"/>
<line x1="461.05" y1="539.50" x2="461.05" y2="533.50" stroke="#4a4a4a" stroke-width="1"/>
<line x1="461.05" y1="281.50" x2="461.05" y2="287.50" stroke="#4a4a4a" stroke-width="1"/>
<line x1="67" y1="281.50" x2="73.00" y2="281.50" stroke="#4a4a4a" stroke-width="1"/>
<line x1="659" y1="281.50" x2="653.00" y2="281.50" stroke="#4a4a4a" stroke-width="1"/>
<line x1="67" y1="345.50" x2="73.00" y2="345.50" stroke="#4a4a4a" stroke-width="1"/>
<line x1="659" y1="345.50" x2="653.00" y2="345.50" stroke="#4a4a4a" stroke-width="1"/>
<line x1="67" y1="410.50" x2="73.00" y2="410.50" stroke="#4a4a4a" stroke-width="1"/>
<line x1="659" y1="410.50" x2="653.00" y2="410.50" stroke="#4a4a4a" stroke-width="1"/>
<line x1="67" y1="474.50" x2="73.00" y2="474.50" stroke="#4a4a4a" stroke-width="1"/>
<line x1="659" y1="474.50" x2="653.00" y2="474.50" stroke="#4a4a4a" stroke-width="1"/>
<line x1="67" y1="539.50" x2="73.00" y2="539.50" stroke="#4a4a4a" stroke-width="1"/>
<line x1="659" y1="539.50" x2="653.00" y2="539.50" stroke="#4a4a4a" stroke-width="1"/>
<text x="64.00" y="287.70" font-size="18" text-anchor="end" font-weight="bold" >0</text>
<text x="64.00" y="352.25" font-size="18" text-anchor="end" font-weight="bold" ><tspan dy="1.8">−</tspan><tspan dy="-1.8">10</tspan></text>
<text x="64.00" y="416.80" font-size="18" text-anchor="end" font-weight="bold" ><tspan dy="1.8">−</tspan><tspan dy="-1.8">20</tspan></text>
<text x="64.00" y="481.35" font-size="18" text-anchor="end" font-weight="bold" ><tspan dy="1.8">−</tspan><tspan dy="-1.8">30</tspan></text>
<text x="64.00" y="545.90" font-size="18" text-anchor="end" font-weight="bold" ><tspan dy="1.8">−</tspan><tspan dy="-1.8">40</tspan></text>
<text x="263.70" y="559.90" font-size="18" text-anchor="middle" font-weight="bold" >2/N=2/M–f(p)/M</text>
<text x="461.50" y="559.90" font-size="18" text-anchor="middle" font-weight="bold" >2/M</text>
<text x="362.40" y="578.10" font-size="18" text-anchor="middle" font-weight="bold">u=cos(<tspan font-family="Liberation Serif, serif" font-weight="normal">θ</tspan>)</text>
<text transform="translate(15.40,409.00) rotate(-90)" font-size="18" text-anchor="middle" font-weight="bold">10log<tspan font-size="11" dy="8">10</tspan><tspan dy="-8">Power (dB)</tspan></text>
<rect x="512.2" y="287.4" width="141.2" height="49.8" fill="#fff" stroke="#4a4a4a" stroke-width="1"/>
<line x1="518" y1="299.8" x2="552" y2="299.8" stroke="#0000ff" stroke-width="4" stroke-dasharray="6.6 5 0.001 5" stroke-dashoffset="-5.3" />
<line x1="518.5" y1="297.8" x2="518.5" y2="301.8" stroke="#0000ff" stroke-width="0.9" stroke-opacity="0.7"/>
<line x1="535.0" y1="297.8" x2="535.0" y2="301.8" stroke="#0000ff" stroke-width="0.9" stroke-opacity="0.7"/>
<line x1="551.8" y1="297.8" x2="551.8" y2="301.8" stroke="#0000ff" stroke-width="0.9" stroke-opacity="0.7"/>
<text x="557.80" y="307.50" font-size="18" text-anchor="start" font-weight="bold" >Subarray 1</text>
<line x1="518" y1="323.9" x2="552" y2="323.9" stroke="#ff0000" stroke-width="4" stroke-dasharray="6.6 5 0.001 5" stroke-dashoffset="-5.3" />
<line x1="518.5" y1="321.9" x2="518.5" y2="325.9" stroke="#ff0000" stroke-width="0.9" stroke-opacity="0.7"/>
<line x1="535.0" y1="321.9" x2="535.0" y2="325.9" stroke="#ff0000" stroke-width="0.9" stroke-opacity="0.7"/>
<line x1="551.8" y1="321.9" x2="551.8" y2="325.9" stroke="#ff0000" stroke-width="0.9" stroke-opacity="0.7"/>
<text x="557.80" y="331.60" font-size="18" text-anchor="start" font-weight="bold" >Subarray 2</text>
<text x="112.6" y="319.1" font-size="13.4" font-weight="bold">p<tspan font-size="9.5" dy="-6">th</tspan><tspan dy="6"> side lobe</tspan></text>
<line x1="189.10" y1="322.30" x2="257.12" y2="434.91" stroke="#000" stroke-width="0.8"/><path d="M261.10,441.50 L251.48,434.46 L257.01,434.72 L259.35,429.71 Z" fill="#000"/>
<text x="553.0" y="370.4" font-size="13.4" font-weight="bold"><tspan font-family="Liberation Serif, serif" font-weight="normal">Δ</tspan> u=f(p)/M</text>
<line x1="551.00" y1="374.60" x2="375.35" y2="518.91" stroke="#000" stroke-width="0.8"/><path d="M369.40,523.80 L374.98,513.26 L375.52,518.77 L380.82,520.37 Z" fill="#000"/>
<line x1="270.85" y1="525.79" x2="453.35" y2="525.61" stroke="#000" stroke-width="2.5" stroke-dasharray="6.8 6.82"/><path d="M262.80,525.80 L274.30,521.09 L271.08,525.79 L274.30,530.49 Z" fill="#000"/><path d="M461.40,525.60 L449.90,530.31 L453.12,525.61 L449.90,520.91 Z" fill="#000"/>
</svg>
</body></html>
